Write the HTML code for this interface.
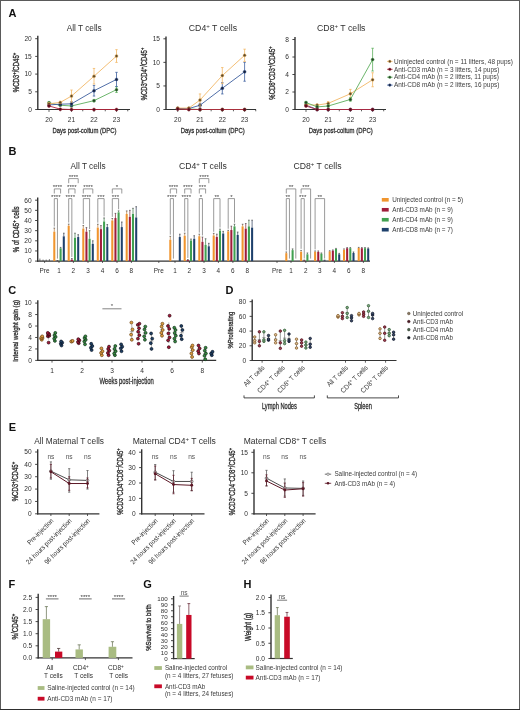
<!DOCTYPE html>
<html><head><meta charset="utf-8"><title>Figure</title>
<style>
html,body{margin:0;padding:0;background:#fff;}
body{width:520px;height:710px;overflow:hidden;}
svg{display:block;font-family:"Liberation Sans", sans-serif;will-change:transform;}
</style></head>
<body>
<svg width="520" height="710" viewBox="0 0 520 710">
<rect x="0" y="0" width="520" height="710" fill="#fff"/>
<text x="8.50" y="17.00" font-size="11" fill="#111" font-weight="bold">A</text>
<line x1="37.80" y1="35.80" x2="37.80" y2="110.10" stroke="#333333" stroke-width="1.4"/>
<line x1="35.20" y1="109.50" x2="37.80" y2="109.50" stroke="#333333" stroke-width="0.9"/>
<text x="31.80" y="111.85" font-size="6.6" fill="#303030" text-anchor="end">0</text>
<line x1="35.20" y1="91.80" x2="37.80" y2="91.80" stroke="#333333" stroke-width="0.9"/>
<text x="31.80" y="94.15" font-size="6.6" fill="#303030" text-anchor="end">5</text>
<line x1="35.20" y1="74.10" x2="37.80" y2="74.10" stroke="#333333" stroke-width="0.9"/>
<text x="31.80" y="76.45" font-size="6.6" fill="#303030" text-anchor="end">10</text>
<line x1="35.20" y1="56.40" x2="37.80" y2="56.40" stroke="#333333" stroke-width="0.9"/>
<text x="31.80" y="58.75" font-size="6.6" fill="#303030" text-anchor="end">15</text>
<line x1="35.20" y1="38.70" x2="37.80" y2="38.70" stroke="#333333" stroke-width="0.9"/>
<text x="31.80" y="41.05" font-size="6.6" fill="#303030" text-anchor="end">20</text>
<line x1="37.30" y1="109.50" x2="130.00" y2="109.50" stroke="#333333" stroke-width="1.2"/>
<line x1="49.00" y1="109.50" x2="49.00" y2="111.90" stroke="#333333" stroke-width="0.8"/>
<text x="49.00" y="121.80" font-size="6.6" fill="#303030" text-anchor="middle">20</text>
<line x1="60.25" y1="109.50" x2="60.25" y2="111.30" stroke="#333333" stroke-width="0.8"/>
<line x1="71.50" y1="109.50" x2="71.50" y2="111.90" stroke="#333333" stroke-width="0.8"/>
<text x="71.50" y="121.80" font-size="6.6" fill="#303030" text-anchor="middle">21</text>
<line x1="82.75" y1="109.50" x2="82.75" y2="111.30" stroke="#333333" stroke-width="0.8"/>
<line x1="94.00" y1="109.50" x2="94.00" y2="111.90" stroke="#333333" stroke-width="0.8"/>
<text x="94.00" y="121.80" font-size="6.6" fill="#303030" text-anchor="middle">22</text>
<line x1="105.25" y1="109.50" x2="105.25" y2="111.30" stroke="#333333" stroke-width="0.8"/>
<line x1="116.50" y1="109.50" x2="116.50" y2="111.90" stroke="#333333" stroke-width="0.8"/>
<text x="116.50" y="121.80" font-size="6.6" fill="#303030" text-anchor="middle">23</text>
<line x1="127.75" y1="109.50" x2="127.75" y2="111.30" stroke="#333333" stroke-width="0.8"/>
<text x="84.50" y="133.00" font-size="7.9" fill="#303030" text-anchor="middle" textLength="64" lengthAdjust="spacingAndGlyphs" stroke="#2b2b2b" stroke-width="0.28">Days post-coitum (DPC)</text>
<text x="66.7" y="30.6" font-size="8.4" fill="#303030" textLength="35" lengthAdjust="spacingAndGlyphs">All T cells</text>
<text x="19.30" y="72.50" font-size="8.4" fill="#303030" text-anchor="middle" stroke="#303030" stroke-width="0.35" textLength="39.5" lengthAdjust="spacingAndGlyphs" transform="rotate(-90 19.30 72.50)">%CD3<tspan font-size="70%" baseline-shift="super">+</tspan>/CD45<tspan font-size="70%" baseline-shift="super">+</tspan></text>
<line x1="49.00" y1="101.71" x2="49.00" y2="103.84" stroke="#5cae5c" stroke-width="0.8"/>
<line x1="47.80" y1="101.71" x2="50.20" y2="101.71" stroke="#5cae5c" stroke-width="0.8"/>
<line x1="47.80" y1="103.84" x2="50.20" y2="103.84" stroke="#5cae5c" stroke-width="0.8"/>
<line x1="94.00" y1="99.59" x2="94.00" y2="101.71" stroke="#5cae5c" stroke-width="0.8"/>
<line x1="92.80" y1="99.59" x2="95.20" y2="99.59" stroke="#5cae5c" stroke-width="0.8"/>
<line x1="92.80" y1="101.71" x2="95.20" y2="101.71" stroke="#5cae5c" stroke-width="0.8"/>
<line x1="116.50" y1="86.84" x2="116.50" y2="92.51" stroke="#5cae5c" stroke-width="0.8"/>
<line x1="115.30" y1="86.84" x2="117.70" y2="86.84" stroke="#5cae5c" stroke-width="0.8"/>
<line x1="115.30" y1="92.51" x2="117.70" y2="92.51" stroke="#5cae5c" stroke-width="0.8"/>
<polyline points="49.00,102.77 60.25,105.25 71.50,105.96 94.00,100.65 116.50,89.68" fill="none" stroke="#5cae5c" stroke-width="0.9" stroke-linejoin="round"/>
<circle cx="49.00" cy="102.77" r="1.5" fill="#234224" stroke="#5cae5c" stroke-width="0.45"/>
<circle cx="60.25" cy="105.25" r="1.5" fill="#234224" stroke="#5cae5c" stroke-width="0.45"/>
<circle cx="71.50" cy="105.96" r="1.5" fill="#234224" stroke="#5cae5c" stroke-width="0.45"/>
<circle cx="94.00" cy="100.65" r="1.5" fill="#234224" stroke="#5cae5c" stroke-width="0.45"/>
<circle cx="116.50" cy="89.68" r="1.5" fill="#234224" stroke="#5cae5c" stroke-width="0.45"/>
<line x1="49.00" y1="103.84" x2="49.00" y2="105.96" stroke="#3d5f9e" stroke-width="0.8"/>
<line x1="47.80" y1="103.84" x2="50.20" y2="103.84" stroke="#3d5f9e" stroke-width="0.8"/>
<line x1="47.80" y1="105.96" x2="50.20" y2="105.96" stroke="#3d5f9e" stroke-width="0.8"/>
<line x1="71.50" y1="101.71" x2="71.50" y2="105.96" stroke="#3d5f9e" stroke-width="0.8"/>
<line x1="70.30" y1="101.71" x2="72.70" y2="101.71" stroke="#3d5f9e" stroke-width="0.8"/>
<line x1="70.30" y1="105.96" x2="72.70" y2="105.96" stroke="#3d5f9e" stroke-width="0.8"/>
<line x1="94.00" y1="85.43" x2="94.00" y2="96.05" stroke="#3d5f9e" stroke-width="0.8"/>
<line x1="92.80" y1="85.43" x2="95.20" y2="85.43" stroke="#3d5f9e" stroke-width="0.8"/>
<line x1="92.80" y1="96.05" x2="95.20" y2="96.05" stroke="#3d5f9e" stroke-width="0.8"/>
<line x1="116.50" y1="72.33" x2="116.50" y2="86.49" stroke="#3d5f9e" stroke-width="0.8"/>
<line x1="115.30" y1="72.33" x2="117.70" y2="72.33" stroke="#3d5f9e" stroke-width="0.8"/>
<line x1="115.30" y1="86.49" x2="117.70" y2="86.49" stroke="#3d5f9e" stroke-width="0.8"/>
<polyline points="49.00,104.90 60.25,104.19 71.50,103.84 94.00,90.74 116.50,79.41" fill="none" stroke="#3d5f9e" stroke-width="0.9" stroke-linejoin="round"/>
<circle cx="49.00" cy="104.90" r="1.5" fill="#16213a" stroke="#3d5f9e" stroke-width="0.45"/>
<circle cx="60.25" cy="104.19" r="1.5" fill="#16213a" stroke="#3d5f9e" stroke-width="0.45"/>
<circle cx="71.50" cy="103.84" r="1.5" fill="#16213a" stroke="#3d5f9e" stroke-width="0.45"/>
<circle cx="94.00" cy="90.74" r="1.5" fill="#16213a" stroke="#3d5f9e" stroke-width="0.45"/>
<circle cx="116.50" cy="79.41" r="1.5" fill="#16213a" stroke="#3d5f9e" stroke-width="0.45"/>
<line x1="49.00" y1="102.77" x2="49.00" y2="104.90" stroke="#f2b765" stroke-width="0.8"/>
<line x1="47.80" y1="102.77" x2="50.20" y2="102.77" stroke="#f2b765" stroke-width="0.8"/>
<line x1="47.80" y1="104.90" x2="50.20" y2="104.90" stroke="#f2b765" stroke-width="0.8"/>
<line x1="60.25" y1="101.36" x2="60.25" y2="103.48" stroke="#f2b765" stroke-width="0.8"/>
<line x1="59.05" y1="101.36" x2="61.45" y2="101.36" stroke="#f2b765" stroke-width="0.8"/>
<line x1="59.05" y1="103.48" x2="61.45" y2="103.48" stroke="#f2b765" stroke-width="0.8"/>
<line x1="71.50" y1="90.03" x2="71.50" y2="102.07" stroke="#f2b765" stroke-width="0.8"/>
<line x1="70.30" y1="90.03" x2="72.70" y2="90.03" stroke="#f2b765" stroke-width="0.8"/>
<line x1="70.30" y1="102.07" x2="72.70" y2="102.07" stroke="#f2b765" stroke-width="0.8"/>
<line x1="94.00" y1="68.44" x2="94.00" y2="84.01" stroke="#f2b765" stroke-width="0.8"/>
<line x1="92.80" y1="68.44" x2="95.20" y2="68.44" stroke="#f2b765" stroke-width="0.8"/>
<line x1="92.80" y1="84.01" x2="95.20" y2="84.01" stroke="#f2b765" stroke-width="0.8"/>
<line x1="116.50" y1="49.67" x2="116.50" y2="62.42" stroke="#f2b765" stroke-width="0.8"/>
<line x1="115.30" y1="49.67" x2="117.70" y2="49.67" stroke="#f2b765" stroke-width="0.8"/>
<line x1="115.30" y1="62.42" x2="117.70" y2="62.42" stroke="#f2b765" stroke-width="0.8"/>
<polyline points="49.00,103.84 60.25,102.42 71.50,96.05 94.00,76.22 116.50,56.05" fill="none" stroke="#f2b765" stroke-width="0.9" stroke-linejoin="round"/>
<circle cx="49.00" cy="103.84" r="1.5" fill="#5e4a28" stroke="#f2b765" stroke-width="0.45"/>
<circle cx="60.25" cy="102.42" r="1.5" fill="#5e4a28" stroke="#f2b765" stroke-width="0.45"/>
<circle cx="71.50" cy="96.05" r="1.5" fill="#5e4a28" stroke="#f2b765" stroke-width="0.45"/>
<circle cx="94.00" cy="76.22" r="1.5" fill="#5e4a28" stroke="#f2b765" stroke-width="0.45"/>
<circle cx="116.50" cy="56.05" r="1.5" fill="#5e4a28" stroke="#f2b765" stroke-width="0.45"/>
<polyline points="49.00,105.96 60.25,109.15 71.50,109.50 94.00,109.50 116.50,109.50" fill="none" stroke="#b3243a" stroke-width="0.9" stroke-linejoin="round"/>
<circle cx="49.00" cy="105.96" r="1.5" fill="#4e0e1c" stroke="#b3243a" stroke-width="0.45"/>
<circle cx="60.25" cy="109.15" r="1.5" fill="#4e0e1c" stroke="#b3243a" stroke-width="0.45"/>
<circle cx="71.50" cy="109.50" r="1.5" fill="#4e0e1c" stroke="#b3243a" stroke-width="0.45"/>
<circle cx="94.00" cy="109.50" r="1.5" fill="#4e0e1c" stroke="#b3243a" stroke-width="0.45"/>
<circle cx="116.50" cy="109.50" r="1.5" fill="#4e0e1c" stroke="#b3243a" stroke-width="0.45"/>
<line x1="166.00" y1="36.50" x2="166.00" y2="110.10" stroke="#333333" stroke-width="1.4"/>
<line x1="163.40" y1="109.50" x2="166.00" y2="109.50" stroke="#333333" stroke-width="0.9"/>
<text x="160.00" y="111.85" font-size="6.6" fill="#303030" text-anchor="end">0</text>
<line x1="163.40" y1="85.94" x2="166.00" y2="85.94" stroke="#333333" stroke-width="0.9"/>
<text x="160.00" y="88.28" font-size="6.6" fill="#303030" text-anchor="end">5</text>
<line x1="163.40" y1="62.37" x2="166.00" y2="62.37" stroke="#333333" stroke-width="0.9"/>
<text x="160.00" y="64.72" font-size="6.6" fill="#303030" text-anchor="end">10</text>
<line x1="163.40" y1="38.80" x2="166.00" y2="38.80" stroke="#333333" stroke-width="0.9"/>
<text x="160.00" y="41.15" font-size="6.6" fill="#303030" text-anchor="end">15</text>
<line x1="165.50" y1="109.50" x2="256.00" y2="109.50" stroke="#333333" stroke-width="1.2"/>
<line x1="177.70" y1="109.50" x2="177.70" y2="111.90" stroke="#333333" stroke-width="0.8"/>
<text x="177.70" y="121.80" font-size="6.6" fill="#303030" text-anchor="middle">20</text>
<line x1="188.85" y1="109.50" x2="188.85" y2="111.30" stroke="#333333" stroke-width="0.8"/>
<line x1="200.00" y1="109.50" x2="200.00" y2="111.90" stroke="#333333" stroke-width="0.8"/>
<text x="200.00" y="121.80" font-size="6.6" fill="#303030" text-anchor="middle">21</text>
<line x1="211.15" y1="109.50" x2="211.15" y2="111.30" stroke="#333333" stroke-width="0.8"/>
<line x1="222.30" y1="109.50" x2="222.30" y2="111.90" stroke="#333333" stroke-width="0.8"/>
<text x="222.30" y="121.80" font-size="6.6" fill="#303030" text-anchor="middle">22</text>
<line x1="233.45" y1="109.50" x2="233.45" y2="111.30" stroke="#333333" stroke-width="0.8"/>
<line x1="244.60" y1="109.50" x2="244.60" y2="111.90" stroke="#333333" stroke-width="0.8"/>
<text x="244.60" y="121.80" font-size="6.6" fill="#303030" text-anchor="middle">23</text>
<line x1="255.75" y1="109.50" x2="255.75" y2="111.30" stroke="#333333" stroke-width="0.8"/>
<text x="212.70" y="133.00" font-size="7.9" fill="#303030" text-anchor="middle" textLength="64" lengthAdjust="spacingAndGlyphs" stroke="#2b2b2b" stroke-width="0.28">Days post-coitum (DPC)</text>
<text x="188.8" y="30.6" font-size="8.4" fill="#303030" textLength="48.3" lengthAdjust="spacingAndGlyphs">CD4<tspan font-size="70%" baseline-shift="super">+</tspan> T cells</text>
<text x="147.20" y="74.00" font-size="8.4" fill="#303030" text-anchor="middle" stroke="#303030" stroke-width="0.35" textLength="52.6" lengthAdjust="spacingAndGlyphs" transform="rotate(-90 147.20 74.00)">%CD3<tspan font-size="70%" baseline-shift="super">+</tspan>CD4<tspan font-size="70%" baseline-shift="super">+</tspan>/CD45<tspan font-size="70%" baseline-shift="super">+</tspan></text>
<polyline points="177.70,108.56 188.85,109.03 200.00,109.50 222.30,109.50 244.60,109.50" fill="none" stroke="#5cae5c" stroke-width="0.9" stroke-linejoin="round"/>
<circle cx="177.70" cy="108.56" r="1.5" fill="#234224" stroke="#5cae5c" stroke-width="0.45"/>
<circle cx="188.85" cy="109.03" r="1.5" fill="#234224" stroke="#5cae5c" stroke-width="0.45"/>
<circle cx="200.00" cy="109.50" r="1.5" fill="#234224" stroke="#5cae5c" stroke-width="0.45"/>
<circle cx="222.30" cy="109.50" r="1.5" fill="#234224" stroke="#5cae5c" stroke-width="0.45"/>
<circle cx="244.60" cy="109.50" r="1.5" fill="#234224" stroke="#5cae5c" stroke-width="0.45"/>
<line x1="200.00" y1="103.37" x2="200.00" y2="107.14" stroke="#3d5f9e" stroke-width="0.8"/>
<line x1="198.80" y1="103.37" x2="201.20" y2="103.37" stroke="#3d5f9e" stroke-width="0.8"/>
<line x1="198.80" y1="107.14" x2="201.20" y2="107.14" stroke="#3d5f9e" stroke-width="0.8"/>
<line x1="222.30" y1="82.64" x2="222.30" y2="93.95" stroke="#3d5f9e" stroke-width="0.8"/>
<line x1="221.10" y1="82.64" x2="223.50" y2="82.64" stroke="#3d5f9e" stroke-width="0.8"/>
<line x1="221.10" y1="93.95" x2="223.50" y2="93.95" stroke="#3d5f9e" stroke-width="0.8"/>
<line x1="244.60" y1="62.37" x2="244.60" y2="81.22" stroke="#3d5f9e" stroke-width="0.8"/>
<line x1="243.40" y1="62.37" x2="245.80" y2="62.37" stroke="#3d5f9e" stroke-width="0.8"/>
<line x1="243.40" y1="81.22" x2="245.80" y2="81.22" stroke="#3d5f9e" stroke-width="0.8"/>
<polyline points="177.70,108.56 188.85,108.56 200.00,105.26 222.30,88.29 244.60,71.80" fill="none" stroke="#3d5f9e" stroke-width="0.9" stroke-linejoin="round"/>
<circle cx="177.70" cy="108.56" r="1.5" fill="#16213a" stroke="#3d5f9e" stroke-width="0.45"/>
<circle cx="188.85" cy="108.56" r="1.5" fill="#16213a" stroke="#3d5f9e" stroke-width="0.45"/>
<circle cx="200.00" cy="105.26" r="1.5" fill="#16213a" stroke="#3d5f9e" stroke-width="0.45"/>
<circle cx="222.30" cy="88.29" r="1.5" fill="#16213a" stroke="#3d5f9e" stroke-width="0.45"/>
<circle cx="244.60" cy="71.80" r="1.5" fill="#16213a" stroke="#3d5f9e" stroke-width="0.45"/>
<line x1="200.00" y1="93.95" x2="200.00" y2="106.20" stroke="#f2b765" stroke-width="0.8"/>
<line x1="198.80" y1="93.95" x2="201.20" y2="93.95" stroke="#f2b765" stroke-width="0.8"/>
<line x1="198.80" y1="106.20" x2="201.20" y2="106.20" stroke="#f2b765" stroke-width="0.8"/>
<line x1="222.30" y1="67.55" x2="222.30" y2="83.58" stroke="#f2b765" stroke-width="0.8"/>
<line x1="221.10" y1="67.55" x2="223.50" y2="67.55" stroke="#f2b765" stroke-width="0.8"/>
<line x1="221.10" y1="83.58" x2="223.50" y2="83.58" stroke="#f2b765" stroke-width="0.8"/>
<line x1="244.60" y1="49.17" x2="244.60" y2="61.43" stroke="#f2b765" stroke-width="0.8"/>
<line x1="243.40" y1="49.17" x2="245.80" y2="49.17" stroke="#f2b765" stroke-width="0.8"/>
<line x1="243.40" y1="61.43" x2="245.80" y2="61.43" stroke="#f2b765" stroke-width="0.8"/>
<polyline points="177.70,108.09 188.85,108.09 200.00,100.07 222.30,75.57 244.60,55.30" fill="none" stroke="#f2b765" stroke-width="0.9" stroke-linejoin="round"/>
<circle cx="177.70" cy="108.09" r="1.5" fill="#5e4a28" stroke="#f2b765" stroke-width="0.45"/>
<circle cx="188.85" cy="108.09" r="1.5" fill="#5e4a28" stroke="#f2b765" stroke-width="0.45"/>
<circle cx="200.00" cy="100.07" r="1.5" fill="#5e4a28" stroke="#f2b765" stroke-width="0.45"/>
<circle cx="222.30" cy="75.57" r="1.5" fill="#5e4a28" stroke="#f2b765" stroke-width="0.45"/>
<circle cx="244.60" cy="55.30" r="1.5" fill="#5e4a28" stroke="#f2b765" stroke-width="0.45"/>
<polyline points="177.70,109.03 188.85,109.50 200.00,109.50 222.30,109.50 244.60,109.50" fill="none" stroke="#b3243a" stroke-width="0.9" stroke-linejoin="round"/>
<circle cx="177.70" cy="109.03" r="1.5" fill="#4e0e1c" stroke="#b3243a" stroke-width="0.45"/>
<circle cx="188.85" cy="109.50" r="1.5" fill="#4e0e1c" stroke="#b3243a" stroke-width="0.45"/>
<circle cx="200.00" cy="109.50" r="1.5" fill="#4e0e1c" stroke="#b3243a" stroke-width="0.45"/>
<circle cx="222.30" cy="109.50" r="1.5" fill="#4e0e1c" stroke="#b3243a" stroke-width="0.45"/>
<circle cx="244.60" cy="109.50" r="1.5" fill="#4e0e1c" stroke="#b3243a" stroke-width="0.45"/>
<line x1="295.00" y1="37.00" x2="295.00" y2="110.10" stroke="#333333" stroke-width="1.4"/>
<line x1="292.40" y1="109.50" x2="295.00" y2="109.50" stroke="#333333" stroke-width="0.9"/>
<text x="289.00" y="111.85" font-size="6.6" fill="#303030" text-anchor="end">0</text>
<line x1="292.40" y1="92.00" x2="295.00" y2="92.00" stroke="#333333" stroke-width="0.9"/>
<text x="289.00" y="94.35" font-size="6.6" fill="#303030" text-anchor="end">2</text>
<line x1="292.40" y1="74.50" x2="295.00" y2="74.50" stroke="#333333" stroke-width="0.9"/>
<text x="289.00" y="76.85" font-size="6.6" fill="#303030" text-anchor="end">4</text>
<line x1="292.40" y1="57.00" x2="295.00" y2="57.00" stroke="#333333" stroke-width="0.9"/>
<text x="289.00" y="59.35" font-size="6.6" fill="#303030" text-anchor="end">6</text>
<line x1="292.40" y1="39.50" x2="295.00" y2="39.50" stroke="#333333" stroke-width="0.9"/>
<text x="289.00" y="41.85" font-size="6.6" fill="#303030" text-anchor="end">8</text>
<line x1="294.50" y1="109.50" x2="386.00" y2="109.50" stroke="#333333" stroke-width="1.2"/>
<line x1="306.00" y1="109.50" x2="306.00" y2="111.90" stroke="#333333" stroke-width="0.8"/>
<text x="306.00" y="121.80" font-size="6.6" fill="#303030" text-anchor="middle">20</text>
<line x1="317.10" y1="109.50" x2="317.10" y2="111.30" stroke="#333333" stroke-width="0.8"/>
<line x1="328.20" y1="109.50" x2="328.20" y2="111.90" stroke="#333333" stroke-width="0.8"/>
<text x="328.20" y="121.80" font-size="6.6" fill="#303030" text-anchor="middle">21</text>
<line x1="339.30" y1="109.50" x2="339.30" y2="111.30" stroke="#333333" stroke-width="0.8"/>
<line x1="350.40" y1="109.50" x2="350.40" y2="111.90" stroke="#333333" stroke-width="0.8"/>
<text x="350.40" y="121.80" font-size="6.6" fill="#303030" text-anchor="middle">22</text>
<line x1="361.50" y1="109.50" x2="361.50" y2="111.30" stroke="#333333" stroke-width="0.8"/>
<line x1="372.60" y1="109.50" x2="372.60" y2="111.90" stroke="#333333" stroke-width="0.8"/>
<text x="372.60" y="121.80" font-size="6.6" fill="#303030" text-anchor="middle">23</text>
<line x1="383.70" y1="109.50" x2="383.70" y2="111.30" stroke="#333333" stroke-width="0.8"/>
<text x="340.70" y="133.00" font-size="7.9" fill="#303030" text-anchor="middle" textLength="64" lengthAdjust="spacingAndGlyphs" stroke="#2b2b2b" stroke-width="0.28">Days post-coitum (DPC)</text>
<text x="317.0" y="30.6" font-size="8.4" fill="#303030" textLength="48.5" lengthAdjust="spacingAndGlyphs">CD8<tspan font-size="70%" baseline-shift="super">+</tspan> T cells</text>
<text x="275.40" y="73.00" font-size="8.4" fill="#303030" text-anchor="middle" stroke="#303030" stroke-width="0.35" textLength="53.3" lengthAdjust="spacingAndGlyphs" transform="rotate(-90 275.40 73.00)">%CD8<tspan font-size="70%" baseline-shift="super">+</tspan>CD3<tspan font-size="70%" baseline-shift="super">+</tspan>/CD45<tspan font-size="70%" baseline-shift="super">+</tspan></text>
<polyline points="306.00,105.12 317.10,109.50 328.20,109.50 350.40,109.50 372.60,109.50" fill="none" stroke="#3d5f9e" stroke-width="0.9" stroke-linejoin="round"/>
<circle cx="306.00" cy="105.12" r="1.5" fill="#16213a" stroke="#3d5f9e" stroke-width="0.45"/>
<circle cx="317.10" cy="109.50" r="1.5" fill="#16213a" stroke="#3d5f9e" stroke-width="0.45"/>
<circle cx="328.20" cy="109.50" r="1.5" fill="#16213a" stroke="#3d5f9e" stroke-width="0.45"/>
<circle cx="350.40" cy="109.50" r="1.5" fill="#16213a" stroke="#3d5f9e" stroke-width="0.45"/>
<circle cx="372.60" cy="109.50" r="1.5" fill="#16213a" stroke="#3d5f9e" stroke-width="0.45"/>
<line x1="306.00" y1="103.81" x2="306.00" y2="105.56" stroke="#f2b765" stroke-width="0.8"/>
<line x1="304.80" y1="103.81" x2="307.20" y2="103.81" stroke="#f2b765" stroke-width="0.8"/>
<line x1="304.80" y1="105.56" x2="307.20" y2="105.56" stroke="#f2b765" stroke-width="0.8"/>
<line x1="317.10" y1="104.25" x2="317.10" y2="106.00" stroke="#f2b765" stroke-width="0.8"/>
<line x1="315.90" y1="104.25" x2="318.30" y2="104.25" stroke="#f2b765" stroke-width="0.8"/>
<line x1="315.90" y1="106.00" x2="318.30" y2="106.00" stroke="#f2b765" stroke-width="0.8"/>
<line x1="328.20" y1="101.62" x2="328.20" y2="105.12" stroke="#f2b765" stroke-width="0.8"/>
<line x1="327.00" y1="101.62" x2="329.40" y2="101.62" stroke="#f2b765" stroke-width="0.8"/>
<line x1="327.00" y1="105.12" x2="329.40" y2="105.12" stroke="#f2b765" stroke-width="0.8"/>
<line x1="350.40" y1="89.38" x2="350.40" y2="98.12" stroke="#f2b765" stroke-width="0.8"/>
<line x1="349.20" y1="89.38" x2="351.60" y2="89.38" stroke="#f2b765" stroke-width="0.8"/>
<line x1="349.20" y1="98.12" x2="351.60" y2="98.12" stroke="#f2b765" stroke-width="0.8"/>
<line x1="372.60" y1="72.75" x2="372.60" y2="86.75" stroke="#f2b765" stroke-width="0.8"/>
<line x1="371.40" y1="72.75" x2="373.80" y2="72.75" stroke="#f2b765" stroke-width="0.8"/>
<line x1="371.40" y1="86.75" x2="373.80" y2="86.75" stroke="#f2b765" stroke-width="0.8"/>
<polyline points="306.00,104.69 317.10,105.12 328.20,103.38 350.40,93.75 372.60,79.75" fill="none" stroke="#f2b765" stroke-width="0.9" stroke-linejoin="round"/>
<circle cx="306.00" cy="104.69" r="1.5" fill="#5e4a28" stroke="#f2b765" stroke-width="0.45"/>
<circle cx="317.10" cy="105.12" r="1.5" fill="#5e4a28" stroke="#f2b765" stroke-width="0.45"/>
<circle cx="328.20" cy="103.38" r="1.5" fill="#5e4a28" stroke="#f2b765" stroke-width="0.45"/>
<circle cx="350.40" cy="93.75" r="1.5" fill="#5e4a28" stroke="#f2b765" stroke-width="0.45"/>
<circle cx="372.60" cy="79.75" r="1.5" fill="#5e4a28" stroke="#f2b765" stroke-width="0.45"/>
<line x1="306.00" y1="101.62" x2="306.00" y2="103.38" stroke="#5cae5c" stroke-width="0.8"/>
<line x1="304.80" y1="101.62" x2="307.20" y2="101.62" stroke="#5cae5c" stroke-width="0.8"/>
<line x1="304.80" y1="103.38" x2="307.20" y2="103.38" stroke="#5cae5c" stroke-width="0.8"/>
<line x1="328.20" y1="105.12" x2="328.20" y2="106.88" stroke="#5cae5c" stroke-width="0.8"/>
<line x1="327.00" y1="105.12" x2="329.40" y2="105.12" stroke="#5cae5c" stroke-width="0.8"/>
<line x1="327.00" y1="106.88" x2="329.40" y2="106.88" stroke="#5cae5c" stroke-width="0.8"/>
<line x1="350.40" y1="97.69" x2="350.40" y2="101.19" stroke="#5cae5c" stroke-width="0.8"/>
<line x1="349.20" y1="97.69" x2="351.60" y2="97.69" stroke="#5cae5c" stroke-width="0.8"/>
<line x1="349.20" y1="101.19" x2="351.60" y2="101.19" stroke="#5cae5c" stroke-width="0.8"/>
<line x1="372.60" y1="48.25" x2="372.60" y2="71.00" stroke="#5cae5c" stroke-width="0.8"/>
<line x1="371.40" y1="48.25" x2="373.80" y2="48.25" stroke="#5cae5c" stroke-width="0.8"/>
<line x1="371.40" y1="71.00" x2="373.80" y2="71.00" stroke="#5cae5c" stroke-width="0.8"/>
<polyline points="306.00,102.50 317.10,106.88 328.20,106.00 350.40,99.44 372.60,59.62" fill="none" stroke="#5cae5c" stroke-width="0.9" stroke-linejoin="round"/>
<circle cx="306.00" cy="102.50" r="1.5" fill="#234224" stroke="#5cae5c" stroke-width="0.45"/>
<circle cx="317.10" cy="106.88" r="1.5" fill="#234224" stroke="#5cae5c" stroke-width="0.45"/>
<circle cx="328.20" cy="106.00" r="1.5" fill="#234224" stroke="#5cae5c" stroke-width="0.45"/>
<circle cx="350.40" cy="99.44" r="1.5" fill="#234224" stroke="#5cae5c" stroke-width="0.45"/>
<circle cx="372.60" cy="59.62" r="1.5" fill="#234224" stroke="#5cae5c" stroke-width="0.45"/>
<polyline points="306.00,106.00 317.10,109.50 328.20,109.50 350.40,109.50 372.60,109.50" fill="none" stroke="#b3243a" stroke-width="0.9" stroke-linejoin="round"/>
<circle cx="306.00" cy="106.00" r="1.5" fill="#4e0e1c" stroke="#b3243a" stroke-width="0.45"/>
<circle cx="317.10" cy="109.50" r="1.5" fill="#4e0e1c" stroke="#b3243a" stroke-width="0.45"/>
<circle cx="328.20" cy="109.50" r="1.5" fill="#4e0e1c" stroke="#b3243a" stroke-width="0.45"/>
<circle cx="350.40" cy="109.50" r="1.5" fill="#4e0e1c" stroke="#b3243a" stroke-width="0.45"/>
<circle cx="372.60" cy="109.50" r="1.5" fill="#4e0e1c" stroke="#b3243a" stroke-width="0.45"/>
<line x1="387.00" y1="61.40" x2="392.60" y2="61.40" stroke="#f2b765" stroke-width="0.8"/>
<circle cx="389.80" cy="61.40" r="1.3" fill="#5e4a28" stroke="#f2b765" stroke-width="0.4"/>
<text x="394.00" y="63.60" font-size="6.45" fill="#3c3c3c">Uninjected control (n = 11 litters, 48 pups)</text>
<line x1="387.00" y1="69.30" x2="392.60" y2="69.30" stroke="#b3243a" stroke-width="0.8"/>
<circle cx="389.80" cy="69.30" r="1.3" fill="#4e0e1c" stroke="#b3243a" stroke-width="0.4"/>
<text x="394.00" y="71.50" font-size="6.45" fill="#3c3c3c">Anti-CD3 mAb (n = 3 litters, 14 pups)</text>
<line x1="387.00" y1="77.20" x2="392.60" y2="77.20" stroke="#5cae5c" stroke-width="0.8"/>
<circle cx="389.80" cy="77.20" r="1.3" fill="#234224" stroke="#5cae5c" stroke-width="0.4"/>
<text x="394.00" y="79.40" font-size="6.45" fill="#3c3c3c">Anti-CD4 mAb (n = 2 litters, 11 pups)</text>
<line x1="387.00" y1="85.10" x2="392.60" y2="85.10" stroke="#3d5f9e" stroke-width="0.8"/>
<circle cx="389.80" cy="85.10" r="1.3" fill="#16213a" stroke="#3d5f9e" stroke-width="0.4"/>
<text x="394.00" y="87.30" font-size="6.45" fill="#3c3c3c">Anti-CD8 mAb (n = 2 litters, 16 pups)</text>
<text x="8.40" y="155.00" font-size="11" fill="#111" font-weight="bold">B</text>
<line x1="37.70" y1="197.40" x2="37.70" y2="261.70" stroke="#333333" stroke-width="1.4"/>
<line x1="35.10" y1="261.10" x2="37.70" y2="261.10" stroke="#333333" stroke-width="0.9"/>
<text x="31.70" y="263.45" font-size="6.6" fill="#303030" text-anchor="end">0</text>
<line x1="35.10" y1="250.95" x2="37.70" y2="250.95" stroke="#333333" stroke-width="0.9"/>
<text x="31.70" y="253.30" font-size="6.6" fill="#303030" text-anchor="end">10</text>
<line x1="35.10" y1="240.80" x2="37.70" y2="240.80" stroke="#333333" stroke-width="0.9"/>
<text x="31.70" y="243.15" font-size="6.6" fill="#303030" text-anchor="end">20</text>
<line x1="35.10" y1="230.65" x2="37.70" y2="230.65" stroke="#333333" stroke-width="0.9"/>
<text x="31.70" y="233.00" font-size="6.6" fill="#303030" text-anchor="end">30</text>
<line x1="35.10" y1="220.50" x2="37.70" y2="220.50" stroke="#333333" stroke-width="0.9"/>
<text x="31.70" y="222.85" font-size="6.6" fill="#303030" text-anchor="end">40</text>
<line x1="35.10" y1="210.35" x2="37.70" y2="210.35" stroke="#333333" stroke-width="0.9"/>
<text x="31.70" y="212.70" font-size="6.6" fill="#303030" text-anchor="end">50</text>
<line x1="35.10" y1="200.20" x2="37.70" y2="200.20" stroke="#333333" stroke-width="0.9"/>
<text x="31.70" y="202.55" font-size="6.6" fill="#303030" text-anchor="end">60</text>
<text x="18.8" y="229.3" font-size="8.2" stroke="#303030" stroke-width="0.35" fill="#303030" text-anchor="middle" textLength="45.8" lengthAdjust="spacingAndGlyphs" transform="rotate(-90 18.8 229.3)">% of CD45<tspan font-size="70%" baseline-shift="super">+</tspan> cells</text>
<line x1="37.20" y1="261.10" x2="370.00" y2="261.10" stroke="#333333" stroke-width="1.2"/>
<line x1="44.60" y1="261.10" x2="44.60" y2="262.90" stroke="#333333" stroke-width="0.8"/>
<text x="44.60" y="273.30" font-size="6.4" fill="#303030" text-anchor="middle">Pre</text>
<line x1="39.90" y1="258.56" x2="39.90" y2="261.10" stroke="#444" stroke-width="0.7"/>
<line x1="43.05" y1="259.58" x2="43.05" y2="261.10" stroke="#444" stroke-width="0.7"/>
<line x1="46.20" y1="259.58" x2="46.20" y2="261.10" stroke="#444" stroke-width="0.7"/>
<line x1="49.40" y1="259.07" x2="49.40" y2="261.10" stroke="#444" stroke-width="0.7"/>
<line x1="59.00" y1="261.10" x2="59.00" y2="262.90" stroke="#333333" stroke-width="0.8"/>
<text x="59.00" y="273.30" font-size="6.4" fill="#303030" text-anchor="middle">1</text>
<rect x="53.27" y="231.67" width="2.05" height="29.44" fill="#f0952e"/>
<line x1="54.30" y1="228.11" x2="54.30" y2="231.67" stroke="#b87a3a" stroke-width="0.7"/>
<line x1="53.50" y1="228.11" x2="55.10" y2="228.11" stroke="#444" stroke-width="0.7"/>
<line x1="57.45" y1="260.59" x2="57.45" y2="261.10" stroke="#7a2036" stroke-width="0.7"/>
<line x1="56.65" y1="260.59" x2="58.25" y2="260.59" stroke="#444" stroke-width="0.7"/>
<rect x="59.58" y="248.31" width="2.05" height="12.79" fill="#40a050"/>
<line x1="60.60" y1="247.40" x2="60.60" y2="248.31" stroke="#3a7a44" stroke-width="0.7"/>
<line x1="59.80" y1="247.40" x2="61.40" y2="247.40" stroke="#444" stroke-width="0.7"/>
<rect x="62.77" y="236.33" width="2.05" height="24.77" fill="#1e406c"/>
<line x1="63.80" y1="233.19" x2="63.80" y2="236.33" stroke="#2a3a58" stroke-width="0.7"/>
<line x1="63.00" y1="233.19" x2="64.60" y2="233.19" stroke="#444" stroke-width="0.7"/>
<line x1="73.40" y1="261.10" x2="73.40" y2="262.90" stroke="#333333" stroke-width="0.8"/>
<text x="73.40" y="273.30" font-size="6.4" fill="#303030" text-anchor="middle">2</text>
<rect x="67.67" y="225.78" width="2.05" height="35.32" fill="#f0952e"/>
<line x1="68.70" y1="224.15" x2="68.70" y2="225.78" stroke="#b87a3a" stroke-width="0.7"/>
<line x1="67.90" y1="224.15" x2="69.50" y2="224.15" stroke="#444" stroke-width="0.7"/>
<rect x="70.83" y="259.58" width="2.05" height="1.52" fill="#a01c3a"/>
<line x1="71.85" y1="258.56" x2="71.85" y2="259.58" stroke="#7a2036" stroke-width="0.7"/>
<line x1="71.05" y1="258.56" x2="72.65" y2="258.56" stroke="#444" stroke-width="0.7"/>
<rect x="73.97" y="237.76" width="2.05" height="23.34" fill="#40a050"/>
<line x1="75.00" y1="233.19" x2="75.00" y2="237.76" stroke="#3a7a44" stroke-width="0.7"/>
<line x1="74.20" y1="233.19" x2="75.80" y2="233.19" stroke="#444" stroke-width="0.7"/>
<rect x="77.17" y="237.04" width="2.05" height="24.06" fill="#1e406c"/>
<line x1="78.20" y1="234.71" x2="78.20" y2="237.04" stroke="#2a3a58" stroke-width="0.7"/>
<line x1="77.40" y1="234.71" x2="79.00" y2="234.71" stroke="#444" stroke-width="0.7"/>
<line x1="88.00" y1="261.10" x2="88.00" y2="262.90" stroke="#333333" stroke-width="0.8"/>
<text x="88.00" y="273.30" font-size="6.4" fill="#303030" text-anchor="middle">3</text>
<rect x="82.27" y="228.62" width="2.05" height="32.48" fill="#f0952e"/>
<line x1="83.30" y1="225.58" x2="83.30" y2="228.62" stroke="#b87a3a" stroke-width="0.7"/>
<line x1="82.50" y1="225.58" x2="84.10" y2="225.58" stroke="#444" stroke-width="0.7"/>
<rect x="85.42" y="231.67" width="2.05" height="29.44" fill="#a01c3a"/>
<line x1="86.45" y1="227.61" x2="86.45" y2="231.67" stroke="#7a2036" stroke-width="0.7"/>
<line x1="85.65" y1="227.61" x2="87.25" y2="227.61" stroke="#444" stroke-width="0.7"/>
<rect x="88.57" y="238.77" width="2.05" height="22.33" fill="#40a050"/>
<line x1="89.60" y1="230.65" x2="89.60" y2="238.77" stroke="#3a7a44" stroke-width="0.7"/>
<line x1="88.80" y1="230.65" x2="90.40" y2="230.65" stroke="#444" stroke-width="0.7"/>
<rect x="91.77" y="243.85" width="2.05" height="17.25" fill="#1e406c"/>
<line x1="92.80" y1="240.80" x2="92.80" y2="243.85" stroke="#2a3a58" stroke-width="0.7"/>
<line x1="92.00" y1="240.80" x2="93.60" y2="240.80" stroke="#444" stroke-width="0.7"/>
<line x1="102.50" y1="261.10" x2="102.50" y2="262.90" stroke="#333333" stroke-width="0.8"/>
<text x="102.50" y="273.30" font-size="6.4" fill="#303030" text-anchor="middle">4</text>
<rect x="96.77" y="227.61" width="2.05" height="33.50" fill="#f0952e"/>
<line x1="97.80" y1="224.26" x2="97.80" y2="227.61" stroke="#b87a3a" stroke-width="0.7"/>
<line x1="97.00" y1="224.26" x2="98.60" y2="224.26" stroke="#444" stroke-width="0.7"/>
<rect x="99.92" y="229.13" width="2.05" height="31.97" fill="#a01c3a"/>
<line x1="100.95" y1="225.58" x2="100.95" y2="229.13" stroke="#7a2036" stroke-width="0.7"/>
<line x1="100.15" y1="225.58" x2="101.75" y2="225.58" stroke="#444" stroke-width="0.7"/>
<rect x="103.07" y="221.52" width="2.05" height="39.58" fill="#40a050"/>
<line x1="104.10" y1="217.96" x2="104.10" y2="221.52" stroke="#3a7a44" stroke-width="0.7"/>
<line x1="103.30" y1="217.96" x2="104.90" y2="217.96" stroke="#444" stroke-width="0.7"/>
<rect x="106.27" y="227.10" width="2.05" height="34.00" fill="#1e406c"/>
<line x1="107.30" y1="224.56" x2="107.30" y2="227.10" stroke="#2a3a58" stroke-width="0.7"/>
<line x1="106.50" y1="224.56" x2="108.10" y2="224.56" stroke="#444" stroke-width="0.7"/>
<line x1="117.00" y1="261.10" x2="117.00" y2="262.90" stroke="#333333" stroke-width="0.8"/>
<text x="117.00" y="273.30" font-size="6.4" fill="#303030" text-anchor="middle">6</text>
<rect x="111.27" y="220.50" width="2.05" height="40.60" fill="#f0952e"/>
<line x1="112.30" y1="218.47" x2="112.30" y2="220.50" stroke="#b87a3a" stroke-width="0.7"/>
<line x1="111.50" y1="218.47" x2="113.10" y2="218.47" stroke="#444" stroke-width="0.7"/>
<rect x="114.42" y="218.06" width="2.05" height="43.04" fill="#a01c3a"/>
<line x1="115.45" y1="213.40" x2="115.45" y2="218.06" stroke="#7a2036" stroke-width="0.7"/>
<line x1="114.65" y1="213.40" x2="116.25" y2="213.40" stroke="#444" stroke-width="0.7"/>
<rect x="117.57" y="212.38" width="2.05" height="48.72" fill="#40a050"/>
<line x1="118.60" y1="210.86" x2="118.60" y2="212.38" stroke="#3a7a44" stroke-width="0.7"/>
<line x1="117.80" y1="210.86" x2="119.40" y2="210.86" stroke="#444" stroke-width="0.7"/>
<rect x="120.77" y="227.10" width="2.05" height="34.00" fill="#1e406c"/>
<line x1="121.80" y1="222.02" x2="121.80" y2="227.10" stroke="#2a3a58" stroke-width="0.7"/>
<line x1="121.00" y1="222.02" x2="122.60" y2="222.02" stroke="#444" stroke-width="0.7"/>
<line x1="131.40" y1="261.10" x2="131.40" y2="262.90" stroke="#333333" stroke-width="0.8"/>
<text x="131.40" y="273.30" font-size="6.4" fill="#303030" text-anchor="middle">8</text>
<rect x="125.67" y="214.00" width="2.05" height="47.10" fill="#f0952e"/>
<line x1="126.70" y1="210.96" x2="126.70" y2="214.00" stroke="#b87a3a" stroke-width="0.7"/>
<line x1="125.90" y1="210.96" x2="127.50" y2="210.96" stroke="#444" stroke-width="0.7"/>
<rect x="128.82" y="216.85" width="2.05" height="44.25" fill="#a01c3a"/>
<line x1="129.85" y1="210.35" x2="129.85" y2="216.85" stroke="#7a2036" stroke-width="0.7"/>
<line x1="129.05" y1="210.35" x2="130.65" y2="210.35" stroke="#444" stroke-width="0.7"/>
<rect x="131.97" y="214.00" width="2.05" height="47.10" fill="#40a050"/>
<line x1="133.00" y1="208.32" x2="133.00" y2="214.00" stroke="#3a7a44" stroke-width="0.7"/>
<line x1="132.20" y1="208.32" x2="133.80" y2="208.32" stroke="#444" stroke-width="0.7"/>
<rect x="135.18" y="217.46" width="2.05" height="43.64" fill="#1e406c"/>
<line x1="136.20" y1="206.70" x2="136.20" y2="217.46" stroke="#2a3a58" stroke-width="0.7"/>
<line x1="135.40" y1="206.70" x2="137.00" y2="206.70" stroke="#444" stroke-width="0.7"/>
<line x1="158.80" y1="261.10" x2="158.80" y2="262.90" stroke="#333333" stroke-width="0.8"/>
<text x="158.80" y="273.30" font-size="6.4" fill="#303030" text-anchor="middle">Pre</text>
<line x1="175.00" y1="261.10" x2="175.00" y2="262.90" stroke="#333333" stroke-width="0.8"/>
<text x="175.00" y="273.30" font-size="6.4" fill="#303030" text-anchor="middle">1</text>
<rect x="169.28" y="239.79" width="2.05" height="21.31" fill="#f0952e"/>
<line x1="170.30" y1="236.33" x2="170.30" y2="239.79" stroke="#b87a3a" stroke-width="0.7"/>
<line x1="169.50" y1="236.33" x2="171.10" y2="236.33" stroke="#444" stroke-width="0.7"/>
<rect x="178.78" y="237.04" width="2.05" height="24.06" fill="#1e406c"/>
<line x1="179.80" y1="234.20" x2="179.80" y2="237.04" stroke="#2a3a58" stroke-width="0.7"/>
<line x1="179.00" y1="234.20" x2="180.60" y2="234.20" stroke="#444" stroke-width="0.7"/>
<line x1="189.40" y1="261.10" x2="189.40" y2="262.90" stroke="#333333" stroke-width="0.8"/>
<text x="189.40" y="273.30" font-size="6.4" fill="#303030" text-anchor="middle">2</text>
<rect x="183.68" y="235.73" width="2.05" height="25.38" fill="#f0952e"/>
<line x1="184.70" y1="233.19" x2="184.70" y2="235.73" stroke="#b87a3a" stroke-width="0.7"/>
<line x1="183.90" y1="233.19" x2="185.50" y2="233.19" stroke="#444" stroke-width="0.7"/>
<rect x="186.82" y="260.09" width="2.05" height="1.01" fill="#a01c3a"/>
<line x1="187.85" y1="259.58" x2="187.85" y2="260.09" stroke="#7a2036" stroke-width="0.7"/>
<line x1="187.05" y1="259.58" x2="188.65" y2="259.58" stroke="#444" stroke-width="0.7"/>
<rect x="189.97" y="240.50" width="2.05" height="20.60" fill="#40a050"/>
<line x1="191.00" y1="239.07" x2="191.00" y2="240.50" stroke="#3a7a44" stroke-width="0.7"/>
<line x1="190.20" y1="239.07" x2="191.80" y2="239.07" stroke="#444" stroke-width="0.7"/>
<rect x="193.18" y="238.77" width="2.05" height="22.33" fill="#1e406c"/>
<line x1="194.20" y1="235.73" x2="194.20" y2="238.77" stroke="#2a3a58" stroke-width="0.7"/>
<line x1="193.40" y1="235.73" x2="195.00" y2="235.73" stroke="#444" stroke-width="0.7"/>
<line x1="204.00" y1="261.10" x2="204.00" y2="262.90" stroke="#333333" stroke-width="0.8"/>
<text x="204.00" y="273.30" font-size="6.4" fill="#303030" text-anchor="middle">3</text>
<rect x="198.28" y="236.23" width="2.05" height="24.87" fill="#f0952e"/>
<line x1="199.30" y1="234.20" x2="199.30" y2="236.23" stroke="#b87a3a" stroke-width="0.7"/>
<line x1="198.50" y1="234.20" x2="200.10" y2="234.20" stroke="#444" stroke-width="0.7"/>
<rect x="201.42" y="241.82" width="2.05" height="19.28" fill="#a01c3a"/>
<line x1="202.45" y1="237.04" x2="202.45" y2="241.82" stroke="#7a2036" stroke-width="0.7"/>
<line x1="201.65" y1="237.04" x2="203.25" y2="237.04" stroke="#444" stroke-width="0.7"/>
<rect x="204.57" y="244.86" width="2.05" height="16.24" fill="#40a050"/>
<line x1="205.60" y1="238.77" x2="205.60" y2="244.86" stroke="#3a7a44" stroke-width="0.7"/>
<line x1="204.80" y1="238.77" x2="206.40" y2="238.77" stroke="#444" stroke-width="0.7"/>
<rect x="207.78" y="246.28" width="2.05" height="14.82" fill="#1e406c"/>
<line x1="208.80" y1="243.34" x2="208.80" y2="246.28" stroke="#2a3a58" stroke-width="0.7"/>
<line x1="208.00" y1="243.34" x2="209.60" y2="243.34" stroke="#444" stroke-width="0.7"/>
<line x1="218.40" y1="261.10" x2="218.40" y2="262.90" stroke="#333333" stroke-width="0.8"/>
<text x="218.40" y="273.30" font-size="6.4" fill="#303030" text-anchor="middle">4</text>
<rect x="212.68" y="235.52" width="2.05" height="25.58" fill="#f0952e"/>
<line x1="213.70" y1="233.39" x2="213.70" y2="235.52" stroke="#b87a3a" stroke-width="0.7"/>
<line x1="212.90" y1="233.39" x2="214.50" y2="233.39" stroke="#444" stroke-width="0.7"/>
<rect x="215.82" y="237.04" width="2.05" height="24.06" fill="#a01c3a"/>
<line x1="216.85" y1="234.20" x2="216.85" y2="237.04" stroke="#7a2036" stroke-width="0.7"/>
<line x1="216.05" y1="234.20" x2="217.65" y2="234.20" stroke="#444" stroke-width="0.7"/>
<rect x="218.97" y="230.65" width="2.05" height="30.45" fill="#40a050"/>
<line x1="220.00" y1="229.13" x2="220.00" y2="230.65" stroke="#3a7a44" stroke-width="0.7"/>
<line x1="219.20" y1="229.13" x2="220.80" y2="229.13" stroke="#444" stroke-width="0.7"/>
<rect x="222.18" y="233.49" width="2.05" height="27.61" fill="#1e406c"/>
<line x1="223.20" y1="231.36" x2="223.20" y2="233.49" stroke="#2a3a58" stroke-width="0.7"/>
<line x1="222.40" y1="231.36" x2="224.00" y2="231.36" stroke="#444" stroke-width="0.7"/>
<line x1="232.90" y1="261.10" x2="232.90" y2="262.90" stroke="#333333" stroke-width="0.8"/>
<text x="232.90" y="273.30" font-size="6.4" fill="#303030" text-anchor="middle">6</text>
<rect x="227.18" y="231.36" width="2.05" height="29.74" fill="#f0952e"/>
<line x1="228.20" y1="230.35" x2="228.20" y2="231.36" stroke="#b87a3a" stroke-width="0.7"/>
<line x1="227.40" y1="230.35" x2="229.00" y2="230.35" stroke="#444" stroke-width="0.7"/>
<rect x="230.32" y="230.04" width="2.05" height="31.06" fill="#a01c3a"/>
<line x1="231.35" y1="226.18" x2="231.35" y2="230.04" stroke="#7a2036" stroke-width="0.7"/>
<line x1="230.55" y1="226.18" x2="232.15" y2="226.18" stroke="#444" stroke-width="0.7"/>
<rect x="233.47" y="226.39" width="2.05" height="34.71" fill="#40a050"/>
<line x1="234.50" y1="224.26" x2="234.50" y2="226.39" stroke="#3a7a44" stroke-width="0.7"/>
<line x1="233.70" y1="224.26" x2="235.30" y2="224.26" stroke="#444" stroke-width="0.7"/>
<rect x="236.68" y="234.91" width="2.05" height="26.19" fill="#1e406c"/>
<line x1="237.70" y1="232.07" x2="237.70" y2="234.91" stroke="#2a3a58" stroke-width="0.7"/>
<line x1="236.90" y1="232.07" x2="238.50" y2="232.07" stroke="#444" stroke-width="0.7"/>
<line x1="247.30" y1="261.10" x2="247.30" y2="262.90" stroke="#333333" stroke-width="0.8"/>
<text x="247.30" y="273.30" font-size="6.4" fill="#303030" text-anchor="middle">8</text>
<rect x="241.58" y="226.39" width="2.05" height="34.71" fill="#f0952e"/>
<line x1="242.60" y1="224.26" x2="242.60" y2="226.39" stroke="#b87a3a" stroke-width="0.7"/>
<line x1="241.80" y1="224.26" x2="243.40" y2="224.26" stroke="#444" stroke-width="0.7"/>
<rect x="244.72" y="228.62" width="2.05" height="32.48" fill="#a01c3a"/>
<line x1="245.75" y1="223.55" x2="245.75" y2="228.62" stroke="#7a2036" stroke-width="0.7"/>
<line x1="244.95" y1="223.55" x2="246.55" y2="223.55" stroke="#444" stroke-width="0.7"/>
<rect x="247.88" y="226.39" width="2.05" height="34.71" fill="#40a050"/>
<line x1="248.90" y1="220.20" x2="248.90" y2="226.39" stroke="#3a7a44" stroke-width="0.7"/>
<line x1="248.10" y1="220.20" x2="249.70" y2="220.20" stroke="#444" stroke-width="0.7"/>
<rect x="251.08" y="227.61" width="2.05" height="33.50" fill="#1e406c"/>
<line x1="252.10" y1="220.20" x2="252.10" y2="227.61" stroke="#2a3a58" stroke-width="0.7"/>
<line x1="251.30" y1="220.20" x2="252.90" y2="220.20" stroke="#444" stroke-width="0.7"/>
<line x1="277.00" y1="261.10" x2="277.00" y2="262.90" stroke="#333333" stroke-width="0.8"/>
<text x="277.00" y="273.30" font-size="6.4" fill="#303030" text-anchor="middle">Pre</text>
<line x1="291.00" y1="261.10" x2="291.00" y2="262.90" stroke="#333333" stroke-width="0.8"/>
<text x="291.00" y="273.30" font-size="6.4" fill="#303030" text-anchor="middle">1</text>
<rect x="285.28" y="253.18" width="2.05" height="7.92" fill="#f0952e"/>
<line x1="286.30" y1="251.97" x2="286.30" y2="253.18" stroke="#b87a3a" stroke-width="0.7"/>
<line x1="285.50" y1="251.97" x2="287.10" y2="251.97" stroke="#444" stroke-width="0.7"/>
<rect x="291.58" y="250.14" width="2.05" height="10.96" fill="#40a050"/>
<line x1="292.60" y1="248.92" x2="292.60" y2="250.14" stroke="#3a7a44" stroke-width="0.7"/>
<line x1="291.80" y1="248.92" x2="293.40" y2="248.92" stroke="#444" stroke-width="0.7"/>
<line x1="305.80" y1="261.10" x2="305.80" y2="262.90" stroke="#333333" stroke-width="0.8"/>
<text x="305.80" y="273.30" font-size="6.4" fill="#303030" text-anchor="middle">2</text>
<rect x="300.08" y="251.76" width="2.05" height="9.34" fill="#f0952e"/>
<line x1="301.10" y1="250.44" x2="301.10" y2="251.76" stroke="#b87a3a" stroke-width="0.7"/>
<line x1="300.30" y1="250.44" x2="301.90" y2="250.44" stroke="#444" stroke-width="0.7"/>
<rect x="303.23" y="260.59" width="2.05" height="0.51" fill="#a01c3a"/>
<line x1="304.25" y1="260.09" x2="304.25" y2="260.59" stroke="#7a2036" stroke-width="0.7"/>
<line x1="303.45" y1="260.09" x2="305.05" y2="260.09" stroke="#444" stroke-width="0.7"/>
<rect x="306.38" y="254.30" width="2.05" height="6.80" fill="#40a050"/>
<line x1="307.40" y1="252.98" x2="307.40" y2="254.30" stroke="#3a7a44" stroke-width="0.7"/>
<line x1="306.60" y1="252.98" x2="308.20" y2="252.98" stroke="#444" stroke-width="0.7"/>
<line x1="319.80" y1="261.10" x2="319.80" y2="262.90" stroke="#333333" stroke-width="0.8"/>
<text x="319.80" y="273.30" font-size="6.4" fill="#303030" text-anchor="middle">3</text>
<rect x="314.08" y="251.76" width="2.05" height="9.34" fill="#f0952e"/>
<line x1="315.10" y1="250.95" x2="315.10" y2="251.76" stroke="#b87a3a" stroke-width="0.7"/>
<line x1="314.30" y1="250.95" x2="315.90" y2="250.95" stroke="#444" stroke-width="0.7"/>
<rect x="317.23" y="251.97" width="2.05" height="9.13" fill="#a01c3a"/>
<line x1="318.25" y1="250.95" x2="318.25" y2="251.97" stroke="#7a2036" stroke-width="0.7"/>
<line x1="317.45" y1="250.95" x2="319.05" y2="250.95" stroke="#444" stroke-width="0.7"/>
<rect x="320.38" y="253.69" width="2.05" height="7.41" fill="#40a050"/>
<line x1="321.40" y1="252.98" x2="321.40" y2="253.69" stroke="#3a7a44" stroke-width="0.7"/>
<line x1="320.60" y1="252.98" x2="322.20" y2="252.98" stroke="#444" stroke-width="0.7"/>
<rect x="323.58" y="260.59" width="2.05" height="0.51" fill="#1e406c"/>
<line x1="324.60" y1="260.09" x2="324.60" y2="260.59" stroke="#2a3a58" stroke-width="0.7"/>
<line x1="323.80" y1="260.09" x2="325.40" y2="260.09" stroke="#444" stroke-width="0.7"/>
<line x1="334.40" y1="261.10" x2="334.40" y2="262.90" stroke="#333333" stroke-width="0.8"/>
<text x="334.40" y="273.30" font-size="6.4" fill="#303030" text-anchor="middle">4</text>
<rect x="328.68" y="251.36" width="2.05" height="9.74" fill="#f0952e"/>
<line x1="329.70" y1="250.75" x2="329.70" y2="251.36" stroke="#b87a3a" stroke-width="0.7"/>
<line x1="328.90" y1="250.75" x2="330.50" y2="250.75" stroke="#444" stroke-width="0.7"/>
<rect x="331.82" y="250.65" width="2.05" height="10.45" fill="#a01c3a"/>
<line x1="332.85" y1="249.94" x2="332.85" y2="250.65" stroke="#7a2036" stroke-width="0.7"/>
<line x1="332.05" y1="249.94" x2="333.65" y2="249.94" stroke="#444" stroke-width="0.7"/>
<rect x="334.98" y="249.02" width="2.05" height="12.08" fill="#40a050"/>
<line x1="336.00" y1="248.41" x2="336.00" y2="249.02" stroke="#3a7a44" stroke-width="0.7"/>
<line x1="335.20" y1="248.41" x2="336.80" y2="248.41" stroke="#444" stroke-width="0.7"/>
<rect x="338.18" y="254.30" width="2.05" height="6.80" fill="#1e406c"/>
<line x1="339.20" y1="253.39" x2="339.20" y2="254.30" stroke="#2a3a58" stroke-width="0.7"/>
<line x1="338.40" y1="253.39" x2="340.00" y2="253.39" stroke="#444" stroke-width="0.7"/>
<line x1="348.70" y1="261.10" x2="348.70" y2="262.90" stroke="#333333" stroke-width="0.8"/>
<text x="348.70" y="273.30" font-size="6.4" fill="#303030" text-anchor="middle">6</text>
<rect x="342.98" y="249.83" width="2.05" height="11.27" fill="#f0952e"/>
<line x1="344.00" y1="248.92" x2="344.00" y2="249.83" stroke="#b87a3a" stroke-width="0.7"/>
<line x1="343.20" y1="248.92" x2="344.80" y2="248.92" stroke="#444" stroke-width="0.7"/>
<rect x="346.12" y="248.21" width="2.05" height="12.89" fill="#a01c3a"/>
<line x1="347.15" y1="247.60" x2="347.15" y2="248.21" stroke="#7a2036" stroke-width="0.7"/>
<line x1="346.35" y1="247.60" x2="347.95" y2="247.60" stroke="#444" stroke-width="0.7"/>
<rect x="349.28" y="248.21" width="2.05" height="12.89" fill="#40a050"/>
<line x1="350.30" y1="247.60" x2="350.30" y2="248.21" stroke="#3a7a44" stroke-width="0.7"/>
<line x1="349.50" y1="247.60" x2="351.10" y2="247.60" stroke="#444" stroke-width="0.7"/>
<rect x="352.48" y="252.98" width="2.05" height="8.12" fill="#1e406c"/>
<line x1="353.50" y1="251.97" x2="353.50" y2="252.98" stroke="#2a3a58" stroke-width="0.7"/>
<line x1="352.70" y1="251.97" x2="354.30" y2="251.97" stroke="#444" stroke-width="0.7"/>
<line x1="363.40" y1="261.10" x2="363.40" y2="262.90" stroke="#333333" stroke-width="0.8"/>
<text x="363.40" y="273.30" font-size="6.4" fill="#303030" text-anchor="middle">8</text>
<rect x="357.68" y="247.91" width="2.05" height="13.19" fill="#f0952e"/>
<line x1="358.70" y1="247.40" x2="358.70" y2="247.91" stroke="#b87a3a" stroke-width="0.7"/>
<line x1="357.90" y1="247.40" x2="359.50" y2="247.40" stroke="#444" stroke-width="0.7"/>
<rect x="360.82" y="248.21" width="2.05" height="12.89" fill="#a01c3a"/>
<line x1="361.85" y1="247.60" x2="361.85" y2="248.21" stroke="#7a2036" stroke-width="0.7"/>
<line x1="361.05" y1="247.60" x2="362.65" y2="247.60" stroke="#444" stroke-width="0.7"/>
<rect x="363.98" y="248.21" width="2.05" height="12.89" fill="#40a050"/>
<line x1="365.00" y1="247.60" x2="365.00" y2="248.21" stroke="#3a7a44" stroke-width="0.7"/>
<line x1="364.20" y1="247.60" x2="365.80" y2="247.60" stroke="#444" stroke-width="0.7"/>
<rect x="367.18" y="248.51" width="2.05" height="12.59" fill="#1e406c"/>
<line x1="368.20" y1="247.91" x2="368.20" y2="248.51" stroke="#2a3a58" stroke-width="0.7"/>
<line x1="367.40" y1="247.91" x2="369.00" y2="247.91" stroke="#444" stroke-width="0.7"/>
<polyline points="54.30,226.51 54.30,198.60 57.45,198.60 57.45,258.60" fill="none" stroke="#7a7a7a" stroke-width="0.75"/>
<text x="55.88" y="198.50" font-size="6.2" fill="#3a3a3a" text-anchor="middle">****</text>
<polyline points="54.30,193.50 54.30,188.90 60.60,188.90 60.60,193.50" fill="none" stroke="#7a7a7a" stroke-width="0.75"/>
<text x="57.45" y="188.80" font-size="6.2" fill="#3a3a3a" text-anchor="middle">****</text>
<polyline points="68.70,222.55 68.70,198.60 71.85,198.60 71.85,256.96" fill="none" stroke="#7a7a7a" stroke-width="0.75"/>
<text x="70.28" y="198.50" font-size="6.2" fill="#3a3a3a" text-anchor="middle">****</text>
<polyline points="68.70,193.50 68.70,188.90 75.00,188.90 75.00,193.50" fill="none" stroke="#7a7a7a" stroke-width="0.75"/>
<text x="71.85" y="188.80" font-size="6.2" fill="#3a3a3a" text-anchor="middle">****</text>
<polyline points="68.70,183.20 68.70,178.60 78.20,178.60 78.20,183.20" fill="none" stroke="#7a7a7a" stroke-width="0.75"/>
<text x="73.45" y="178.50" font-size="6.2" fill="#3a3a3a" text-anchor="middle">****</text>
<polyline points="83.30,223.98 83.30,198.60 89.60,198.60 89.60,229.05" fill="none" stroke="#7a7a7a" stroke-width="0.75"/>
<text x="86.45" y="198.50" font-size="6.2" fill="#3a3a3a" text-anchor="middle">****</text>
<polyline points="83.30,193.50 83.30,188.90 92.80,188.90 92.80,193.50" fill="none" stroke="#7a7a7a" stroke-width="0.75"/>
<text x="88.05" y="188.80" font-size="6.2" fill="#3a3a3a" text-anchor="middle">****</text>
<polyline points="97.80,222.66 97.80,198.60 104.10,198.60 104.10,216.36" fill="none" stroke="#7a7a7a" stroke-width="0.75"/>
<text x="100.95" y="198.50" font-size="6.2" fill="#3a3a3a" text-anchor="middle">***</text>
<polyline points="112.30,216.87 112.30,198.60 118.60,198.60 118.60,209.26" fill="none" stroke="#7a7a7a" stroke-width="0.75"/>
<text x="115.45" y="198.50" font-size="6.2" fill="#3a3a3a" text-anchor="middle">***</text>
<polyline points="112.30,193.50 112.30,188.90 121.80,188.90 121.80,193.50" fill="none" stroke="#7a7a7a" stroke-width="0.75"/>
<text x="117.05" y="188.80" font-size="6.2" fill="#3a3a3a" text-anchor="middle">*</text>
<polyline points="170.30,234.73 170.30,198.60 173.45,198.60 173.45,258.60" fill="none" stroke="#7a7a7a" stroke-width="0.75"/>
<text x="171.88" y="198.50" font-size="6.2" fill="#3a3a3a" text-anchor="middle">****</text>
<polyline points="170.30,193.50 170.30,188.90 176.60,188.90 176.60,193.50" fill="none" stroke="#7a7a7a" stroke-width="0.75"/>
<text x="173.45" y="188.80" font-size="6.2" fill="#3a3a3a" text-anchor="middle">****</text>
<polyline points="184.70,231.59 184.70,198.60 187.85,198.60 187.85,257.98" fill="none" stroke="#7a7a7a" stroke-width="0.75"/>
<text x="186.28" y="198.50" font-size="6.2" fill="#3a3a3a" text-anchor="middle">****</text>
<polyline points="184.70,193.50 184.70,188.90 191.00,188.90 191.00,193.50" fill="none" stroke="#7a7a7a" stroke-width="0.75"/>
<text x="187.85" y="188.80" font-size="6.2" fill="#3a3a3a" text-anchor="middle">****</text>
<polyline points="199.30,232.60 199.30,198.60 202.45,198.60 202.45,235.44" fill="none" stroke="#7a7a7a" stroke-width="0.75"/>
<text x="200.88" y="198.50" font-size="6.2" fill="#3a3a3a" text-anchor="middle">*</text>
<polyline points="199.30,193.50 199.30,188.90 205.60,188.90 205.60,193.50" fill="none" stroke="#7a7a7a" stroke-width="0.75"/>
<text x="202.45" y="188.80" font-size="6.2" fill="#3a3a3a" text-anchor="middle">***</text>
<polyline points="199.30,183.20 199.30,178.60 208.80,178.60 208.80,183.20" fill="none" stroke="#7a7a7a" stroke-width="0.75"/>
<text x="204.05" y="178.50" font-size="6.2" fill="#3a3a3a" text-anchor="middle">****</text>
<polyline points="213.70,231.79 213.70,198.60 220.00,198.60 220.00,227.53" fill="none" stroke="#7a7a7a" stroke-width="0.75"/>
<text x="216.85" y="198.50" font-size="6.2" fill="#3a3a3a" text-anchor="middle">**</text>
<polyline points="228.20,228.75 228.20,198.60 234.50,198.60 234.50,222.66" fill="none" stroke="#7a7a7a" stroke-width="0.75"/>
<text x="231.35" y="198.50" font-size="6.2" fill="#3a3a3a" text-anchor="middle">*</text>
<polyline points="286.30,250.37 286.30,198.60 289.45,198.60 289.45,258.60" fill="none" stroke="#7a7a7a" stroke-width="0.75"/>
<text x="287.88" y="198.50" font-size="6.2" fill="#3a3a3a" text-anchor="middle">**</text>
<polyline points="286.30,193.50 286.30,188.90 295.80,188.90 295.80,258.60" fill="none" stroke="#7a7a7a" stroke-width="0.75"/>
<text x="291.05" y="188.80" font-size="6.2" fill="#3a3a3a" text-anchor="middle">**</text>
<polyline points="301.10,248.84 301.10,198.60 304.25,198.60 304.25,258.49" fill="none" stroke="#7a7a7a" stroke-width="0.75"/>
<text x="302.68" y="198.50" font-size="6.2" fill="#3a3a3a" text-anchor="middle">***</text>
<polyline points="301.10,193.50 301.10,188.90 310.60,188.90 310.60,258.60" fill="none" stroke="#7a7a7a" stroke-width="0.75"/>
<text x="305.85" y="188.80" font-size="6.2" fill="#3a3a3a" text-anchor="middle">***</text>
<polyline points="315.10,249.35 315.10,198.60 324.60,198.60 324.60,258.49" fill="none" stroke="#7a7a7a" stroke-width="0.75"/>
<text x="319.85" y="198.50" font-size="6.2" fill="#3a3a3a" text-anchor="middle">**</text>
<text x="70.60" y="168.60" font-size="8.4" fill="#303030" textLength="35" lengthAdjust="spacingAndGlyphs">All T cells</text>
<text x="178.9" y="168.6" font-size="8.4" fill="#303030" textLength="48" lengthAdjust="spacingAndGlyphs">CD4<tspan font-size="70%" baseline-shift="super">+</tspan> T cells</text>
<text x="293.5" y="168.6" font-size="8.4" fill="#303030" textLength="48" lengthAdjust="spacingAndGlyphs">CD8<tspan font-size="70%" baseline-shift="super">+</tspan> T cells</text>
<rect x="381.80" y="198.00" width="6.90" height="3.60" fill="#f0952e"/>
<text x="392.20" y="202.00" font-size="6.34" fill="#3c3c3c">Uninjected control (n = 5)</text>
<rect x="381.80" y="207.97" width="6.90" height="3.60" fill="#a01c3a"/>
<text x="392.20" y="211.97" font-size="6.34" fill="#3c3c3c">Anti-CD3 mAb (n = 9)</text>
<rect x="381.80" y="217.94" width="6.90" height="3.60" fill="#40a050"/>
<text x="392.20" y="221.94" font-size="6.34" fill="#3c3c3c">Anti-CD4 mAb (n = 9)</text>
<rect x="381.80" y="227.91" width="6.90" height="3.60" fill="#1e406c"/>
<text x="392.20" y="231.91" font-size="6.34" fill="#3c3c3c">Anti-CD8 mAb (n = 7)</text>
<text x="8.20" y="294.30" font-size="11" fill="#111" font-weight="bold">C</text>
<line x1="37.80" y1="300.30" x2="37.80" y2="361.00" stroke="#333333" stroke-width="1.4"/>
<line x1="35.20" y1="360.40" x2="37.80" y2="360.40" stroke="#333333" stroke-width="0.9"/>
<text x="31.80" y="362.75" font-size="6.6" fill="#303030" text-anchor="end">0</text>
<line x1="35.20" y1="348.94" x2="37.80" y2="348.94" stroke="#333333" stroke-width="0.9"/>
<text x="31.80" y="351.29" font-size="6.6" fill="#303030" text-anchor="end">2</text>
<line x1="35.20" y1="337.48" x2="37.80" y2="337.48" stroke="#333333" stroke-width="0.9"/>
<text x="31.80" y="339.83" font-size="6.6" fill="#303030" text-anchor="end">4</text>
<line x1="35.20" y1="326.02" x2="37.80" y2="326.02" stroke="#333333" stroke-width="0.9"/>
<text x="31.80" y="328.37" font-size="6.6" fill="#303030" text-anchor="end">6</text>
<line x1="35.20" y1="314.56" x2="37.80" y2="314.56" stroke="#333333" stroke-width="0.9"/>
<text x="31.80" y="316.91" font-size="6.6" fill="#303030" text-anchor="end">8</text>
<line x1="35.20" y1="303.10" x2="37.80" y2="303.10" stroke="#333333" stroke-width="0.9"/>
<text x="31.80" y="305.45" font-size="6.6" fill="#303030" text-anchor="end">10</text>
<line x1="37.30" y1="360.40" x2="216.20" y2="360.40" stroke="#333333" stroke-width="1.2"/>
<line x1="52.00" y1="360.40" x2="52.00" y2="362.60" stroke="#333333" stroke-width="0.8"/>
<text x="52.00" y="372.70" font-size="6.6" fill="#303030" text-anchor="middle">1</text>
<line x1="82.10" y1="360.40" x2="82.10" y2="362.60" stroke="#333333" stroke-width="0.8"/>
<text x="82.10" y="372.70" font-size="6.6" fill="#303030" text-anchor="middle">2</text>
<line x1="112.00" y1="360.40" x2="112.00" y2="362.60" stroke="#333333" stroke-width="0.8"/>
<text x="112.00" y="372.70" font-size="6.6" fill="#303030" text-anchor="middle">3</text>
<line x1="142.00" y1="360.40" x2="142.00" y2="362.60" stroke="#333333" stroke-width="0.8"/>
<text x="142.00" y="372.70" font-size="6.6" fill="#303030" text-anchor="middle">4</text>
<line x1="172.20" y1="360.40" x2="172.20" y2="362.60" stroke="#333333" stroke-width="0.8"/>
<text x="172.20" y="372.70" font-size="6.6" fill="#303030" text-anchor="middle">6</text>
<line x1="202.30" y1="360.40" x2="202.30" y2="362.60" stroke="#333333" stroke-width="0.8"/>
<text x="202.30" y="372.70" font-size="6.6" fill="#303030" text-anchor="middle">8</text>
<text x="126.60" y="384.40" font-size="8.8" fill="#303030" text-anchor="middle" textLength="54.4" lengthAdjust="spacingAndGlyphs" stroke="#2b2b2b" stroke-width="0.28">Weeks post-injection</text>
<text x="18.40" y="330.80" font-size="7.9" fill="#303030" text-anchor="middle" stroke="#303030" stroke-width="0.35" textLength="61.7" lengthAdjust="spacingAndGlyphs" transform="rotate(-90 18.40 330.80)">Interval weight gain (g)</text>
<line x1="102.40" y1="308.80" x2="121.50" y2="308.80" stroke="#666" stroke-width="0.8"/>
<text x="111.90" y="307.90" font-size="6.2" fill="#4a4a4a" text-anchor="middle">*</text>
<line x1="41.80" y1="336.77" x2="41.80" y2="339.33" stroke="#666" stroke-width="0.5"/>
<line x1="39.80" y1="338.05" x2="43.80" y2="338.05" stroke="#666" stroke-width="0.5"/>
<circle cx="41.80" cy="339.77" r="1.45" fill="#dea043" stroke="#6a4416" stroke-width="0.7"/>
<circle cx="41.10" cy="338.63" r="1.45" fill="#dea043" stroke="#6a4416" stroke-width="0.7"/>
<circle cx="42.50" cy="338.05" r="1.45" fill="#dea043" stroke="#6a4416" stroke-width="0.7"/>
<circle cx="41.40" cy="337.48" r="1.45" fill="#dea043" stroke="#6a4416" stroke-width="0.7"/>
<circle cx="42.20" cy="336.33" r="1.45" fill="#dea043" stroke="#6a4416" stroke-width="0.7"/>
<line x1="48.60" y1="332.60" x2="48.60" y2="339.50" stroke="#666" stroke-width="0.5"/>
<line x1="46.60" y1="336.05" x2="50.60" y2="336.05" stroke="#666" stroke-width="0.5"/>
<circle cx="48.60" cy="342.64" r="1.45" fill="#a3183a" stroke="#2e0810" stroke-width="0.7"/>
<circle cx="47.90" cy="336.33" r="1.45" fill="#a3183a" stroke="#2e0810" stroke-width="0.7"/>
<circle cx="49.30" cy="335.76" r="1.45" fill="#a3183a" stroke="#2e0810" stroke-width="0.7"/>
<circle cx="48.20" cy="334.61" r="1.45" fill="#a3183a" stroke="#2e0810" stroke-width="0.7"/>
<circle cx="49.00" cy="334.04" r="1.45" fill="#a3183a" stroke="#2e0810" stroke-width="0.7"/>
<circle cx="47.80" cy="332.90" r="1.45" fill="#a3183a" stroke="#2e0810" stroke-width="0.7"/>
<line x1="54.90" y1="333.82" x2="54.90" y2="339.99" stroke="#666" stroke-width="0.5"/>
<line x1="52.90" y1="336.91" x2="56.90" y2="336.91" stroke="#666" stroke-width="0.5"/>
<circle cx="54.90" cy="340.92" r="1.45" fill="#368a40" stroke="#12301a" stroke-width="0.7"/>
<circle cx="54.20" cy="338.63" r="1.45" fill="#368a40" stroke="#12301a" stroke-width="0.7"/>
<circle cx="55.60" cy="336.91" r="1.45" fill="#368a40" stroke="#12301a" stroke-width="0.7"/>
<circle cx="54.50" cy="335.19" r="1.45" fill="#368a40" stroke="#12301a" stroke-width="0.7"/>
<circle cx="55.30" cy="332.90" r="1.45" fill="#368a40" stroke="#12301a" stroke-width="0.7"/>
<line x1="61.50" y1="341.64" x2="61.50" y2="345.06" stroke="#666" stroke-width="0.5"/>
<line x1="59.50" y1="343.35" x2="63.50" y2="343.35" stroke="#666" stroke-width="0.5"/>
<circle cx="61.50" cy="345.50" r="1.45" fill="#1e4066" stroke="#0a1424" stroke-width="0.7"/>
<circle cx="60.80" cy="343.78" r="1.45" fill="#1e4066" stroke="#0a1424" stroke-width="0.7"/>
<circle cx="62.20" cy="342.64" r="1.45" fill="#1e4066" stroke="#0a1424" stroke-width="0.7"/>
<circle cx="61.10" cy="341.49" r="1.45" fill="#1e4066" stroke="#0a1424" stroke-width="0.7"/>
<line x1="71.90" y1="340.97" x2="71.90" y2="341.63" stroke="#666" stroke-width="0.5"/>
<line x1="69.90" y1="341.30" x2="73.90" y2="341.30" stroke="#666" stroke-width="0.5"/>
<circle cx="71.90" cy="341.49" r="1.45" fill="#dea043" stroke="#6a4416" stroke-width="0.7"/>
<circle cx="71.20" cy="341.49" r="1.45" fill="#dea043" stroke="#6a4416" stroke-width="0.7"/>
<circle cx="72.60" cy="340.92" r="1.45" fill="#dea043" stroke="#6a4416" stroke-width="0.7"/>
<line x1="78.70" y1="339.42" x2="78.70" y2="342.99" stroke="#666" stroke-width="0.5"/>
<line x1="76.70" y1="341.20" x2="80.70" y2="341.20" stroke="#666" stroke-width="0.5"/>
<circle cx="78.70" cy="343.21" r="1.45" fill="#a3183a" stroke="#2e0810" stroke-width="0.7"/>
<circle cx="78.00" cy="342.06" r="1.45" fill="#a3183a" stroke="#2e0810" stroke-width="0.7"/>
<circle cx="79.40" cy="340.34" r="1.45" fill="#a3183a" stroke="#2e0810" stroke-width="0.7"/>
<circle cx="78.30" cy="339.20" r="1.45" fill="#a3183a" stroke="#2e0810" stroke-width="0.7"/>
<line x1="85.00" y1="336.90" x2="85.00" y2="343.10" stroke="#666" stroke-width="0.5"/>
<line x1="83.00" y1="340.00" x2="87.00" y2="340.00" stroke="#666" stroke-width="0.5"/>
<circle cx="85.00" cy="344.36" r="1.45" fill="#368a40" stroke="#12301a" stroke-width="0.7"/>
<circle cx="84.30" cy="341.49" r="1.45" fill="#368a40" stroke="#12301a" stroke-width="0.7"/>
<circle cx="85.70" cy="339.77" r="1.45" fill="#368a40" stroke="#12301a" stroke-width="0.7"/>
<circle cx="84.60" cy="338.05" r="1.45" fill="#368a40" stroke="#12301a" stroke-width="0.7"/>
<circle cx="85.40" cy="336.33" r="1.45" fill="#368a40" stroke="#12301a" stroke-width="0.7"/>
<line x1="91.60" y1="344.27" x2="91.60" y2="349.60" stroke="#666" stroke-width="0.5"/>
<line x1="89.60" y1="346.93" x2="93.60" y2="346.93" stroke="#666" stroke-width="0.5"/>
<circle cx="91.60" cy="350.09" r="1.45" fill="#1e4066" stroke="#0a1424" stroke-width="0.7"/>
<circle cx="90.90" cy="347.79" r="1.45" fill="#1e4066" stroke="#0a1424" stroke-width="0.7"/>
<circle cx="92.30" cy="346.07" r="1.45" fill="#1e4066" stroke="#0a1424" stroke-width="0.7"/>
<circle cx="91.20" cy="343.78" r="1.45" fill="#1e4066" stroke="#0a1424" stroke-width="0.7"/>
<line x1="101.80" y1="349.05" x2="101.80" y2="354.85" stroke="#666" stroke-width="0.5"/>
<line x1="99.80" y1="351.95" x2="103.80" y2="351.95" stroke="#666" stroke-width="0.5"/>
<circle cx="101.80" cy="355.24" r="1.45" fill="#dea043" stroke="#6a4416" stroke-width="0.7"/>
<circle cx="101.10" cy="352.95" r="1.45" fill="#dea043" stroke="#6a4416" stroke-width="0.7"/>
<circle cx="102.50" cy="351.23" r="1.45" fill="#dea043" stroke="#6a4416" stroke-width="0.7"/>
<circle cx="101.40" cy="348.37" r="1.45" fill="#dea043" stroke="#6a4416" stroke-width="0.7"/>
<line x1="108.60" y1="347.53" x2="108.60" y2="354.24" stroke="#666" stroke-width="0.5"/>
<line x1="106.60" y1="350.89" x2="110.60" y2="350.89" stroke="#666" stroke-width="0.5"/>
<circle cx="108.60" cy="355.24" r="1.45" fill="#a3183a" stroke="#2e0810" stroke-width="0.7"/>
<circle cx="107.90" cy="352.95" r="1.45" fill="#a3183a" stroke="#2e0810" stroke-width="0.7"/>
<circle cx="109.30" cy="350.66" r="1.45" fill="#a3183a" stroke="#2e0810" stroke-width="0.7"/>
<circle cx="108.20" cy="348.94" r="1.45" fill="#a3183a" stroke="#2e0810" stroke-width="0.7"/>
<circle cx="109.00" cy="346.65" r="1.45" fill="#a3183a" stroke="#2e0810" stroke-width="0.7"/>
<line x1="114.90" y1="347.37" x2="114.90" y2="354.64" stroke="#666" stroke-width="0.5"/>
<line x1="112.90" y1="351.00" x2="116.90" y2="351.00" stroke="#666" stroke-width="0.5"/>
<circle cx="114.90" cy="355.24" r="1.45" fill="#368a40" stroke="#12301a" stroke-width="0.7"/>
<circle cx="114.20" cy="353.52" r="1.45" fill="#368a40" stroke="#12301a" stroke-width="0.7"/>
<circle cx="115.60" cy="351.23" r="1.45" fill="#368a40" stroke="#12301a" stroke-width="0.7"/>
<circle cx="114.50" cy="348.94" r="1.45" fill="#368a40" stroke="#12301a" stroke-width="0.7"/>
<circle cx="115.30" cy="346.07" r="1.45" fill="#368a40" stroke="#12301a" stroke-width="0.7"/>
<line x1="121.50" y1="344.75" x2="121.50" y2="350.55" stroke="#666" stroke-width="0.5"/>
<line x1="119.50" y1="347.65" x2="123.50" y2="347.65" stroke="#666" stroke-width="0.5"/>
<circle cx="121.50" cy="351.23" r="1.45" fill="#1e4066" stroke="#0a1424" stroke-width="0.7"/>
<circle cx="120.80" cy="348.37" r="1.45" fill="#1e4066" stroke="#0a1424" stroke-width="0.7"/>
<circle cx="122.20" cy="346.65" r="1.45" fill="#1e4066" stroke="#0a1424" stroke-width="0.7"/>
<circle cx="121.10" cy="344.36" r="1.45" fill="#1e4066" stroke="#0a1424" stroke-width="0.7"/>
<line x1="131.80" y1="324.26" x2="131.80" y2="338.95" stroke="#666" stroke-width="0.5"/>
<line x1="129.80" y1="331.61" x2="133.80" y2="331.61" stroke="#666" stroke-width="0.5"/>
<circle cx="131.80" cy="339.77" r="1.45" fill="#dea043" stroke="#6a4416" stroke-width="0.7"/>
<circle cx="131.10" cy="334.61" r="1.45" fill="#dea043" stroke="#6a4416" stroke-width="0.7"/>
<circle cx="132.50" cy="329.46" r="1.45" fill="#dea043" stroke="#6a4416" stroke-width="0.7"/>
<circle cx="131.40" cy="322.58" r="1.45" fill="#dea043" stroke="#6a4416" stroke-width="0.7"/>
<line x1="138.60" y1="324.96" x2="138.60" y2="339.68" stroke="#666" stroke-width="0.5"/>
<line x1="136.60" y1="332.32" x2="140.60" y2="332.32" stroke="#666" stroke-width="0.5"/>
<circle cx="138.60" cy="343.78" r="1.45" fill="#a3183a" stroke="#2e0810" stroke-width="0.7"/>
<circle cx="137.90" cy="338.63" r="1.45" fill="#a3183a" stroke="#2e0810" stroke-width="0.7"/>
<circle cx="139.30" cy="335.19" r="1.45" fill="#a3183a" stroke="#2e0810" stroke-width="0.7"/>
<circle cx="138.20" cy="331.75" r="1.45" fill="#a3183a" stroke="#2e0810" stroke-width="0.7"/>
<circle cx="139.00" cy="328.31" r="1.45" fill="#a3183a" stroke="#2e0810" stroke-width="0.7"/>
<circle cx="137.80" cy="324.87" r="1.45" fill="#a3183a" stroke="#2e0810" stroke-width="0.7"/>
<circle cx="139.40" cy="323.73" r="1.45" fill="#a3183a" stroke="#2e0810" stroke-width="0.7"/>
<line x1="144.90" y1="327.75" x2="144.90" y2="338.27" stroke="#666" stroke-width="0.5"/>
<line x1="142.90" y1="333.01" x2="146.90" y2="333.01" stroke="#666" stroke-width="0.5"/>
<circle cx="144.90" cy="339.77" r="1.45" fill="#368a40" stroke="#12301a" stroke-width="0.7"/>
<circle cx="144.20" cy="336.33" r="1.45" fill="#368a40" stroke="#12301a" stroke-width="0.7"/>
<circle cx="145.60" cy="332.90" r="1.45" fill="#368a40" stroke="#12301a" stroke-width="0.7"/>
<circle cx="144.50" cy="329.46" r="1.45" fill="#368a40" stroke="#12301a" stroke-width="0.7"/>
<circle cx="145.30" cy="326.59" r="1.45" fill="#368a40" stroke="#12301a" stroke-width="0.7"/>
<line x1="151.50" y1="334.47" x2="151.50" y2="347.65" stroke="#666" stroke-width="0.5"/>
<line x1="149.50" y1="341.06" x2="153.50" y2="341.06" stroke="#666" stroke-width="0.5"/>
<circle cx="151.50" cy="348.94" r="1.45" fill="#1e4066" stroke="#0a1424" stroke-width="0.7"/>
<circle cx="150.80" cy="343.21" r="1.45" fill="#1e4066" stroke="#0a1424" stroke-width="0.7"/>
<circle cx="152.20" cy="338.63" r="1.45" fill="#1e4066" stroke="#0a1424" stroke-width="0.7"/>
<circle cx="151.10" cy="333.47" r="1.45" fill="#1e4066" stroke="#0a1424" stroke-width="0.7"/>
<line x1="162.00" y1="325.00" x2="162.00" y2="334.61" stroke="#666" stroke-width="0.5"/>
<line x1="160.00" y1="329.80" x2="164.00" y2="329.80" stroke="#666" stroke-width="0.5"/>
<circle cx="162.00" cy="335.76" r="1.45" fill="#dea043" stroke="#6a4416" stroke-width="0.7"/>
<circle cx="161.30" cy="332.90" r="1.45" fill="#dea043" stroke="#6a4416" stroke-width="0.7"/>
<circle cx="162.70" cy="330.03" r="1.45" fill="#dea043" stroke="#6a4416" stroke-width="0.7"/>
<circle cx="161.60" cy="326.59" r="1.45" fill="#dea043" stroke="#6a4416" stroke-width="0.7"/>
<circle cx="162.40" cy="323.73" r="1.45" fill="#dea043" stroke="#6a4416" stroke-width="0.7"/>
<line x1="168.80" y1="322.40" x2="168.80" y2="343.07" stroke="#666" stroke-width="0.5"/>
<line x1="166.80" y1="332.73" x2="170.80" y2="332.73" stroke="#666" stroke-width="0.5"/>
<circle cx="168.80" cy="347.22" r="1.45" fill="#a3183a" stroke="#2e0810" stroke-width="0.7"/>
<circle cx="168.10" cy="340.34" r="1.45" fill="#a3183a" stroke="#2e0810" stroke-width="0.7"/>
<circle cx="169.50" cy="337.48" r="1.45" fill="#a3183a" stroke="#2e0810" stroke-width="0.7"/>
<circle cx="168.40" cy="333.47" r="1.45" fill="#a3183a" stroke="#2e0810" stroke-width="0.7"/>
<circle cx="169.20" cy="328.88" r="1.45" fill="#a3183a" stroke="#2e0810" stroke-width="0.7"/>
<circle cx="168.00" cy="326.02" r="1.45" fill="#a3183a" stroke="#2e0810" stroke-width="0.7"/>
<circle cx="169.60" cy="315.71" r="1.45" fill="#a3183a" stroke="#2e0810" stroke-width="0.7"/>
<line x1="175.10" y1="329.21" x2="175.10" y2="339.63" stroke="#666" stroke-width="0.5"/>
<line x1="173.10" y1="334.42" x2="177.10" y2="334.42" stroke="#666" stroke-width="0.5"/>
<circle cx="175.10" cy="341.49" r="1.45" fill="#368a40" stroke="#12301a" stroke-width="0.7"/>
<circle cx="174.40" cy="338.63" r="1.45" fill="#368a40" stroke="#12301a" stroke-width="0.7"/>
<circle cx="175.80" cy="335.76" r="1.45" fill="#368a40" stroke="#12301a" stroke-width="0.7"/>
<circle cx="174.70" cy="332.90" r="1.45" fill="#368a40" stroke="#12301a" stroke-width="0.7"/>
<circle cx="175.50" cy="330.03" r="1.45" fill="#368a40" stroke="#12301a" stroke-width="0.7"/>
<circle cx="174.30" cy="327.74" r="1.45" fill="#368a40" stroke="#12301a" stroke-width="0.7"/>
<line x1="181.70" y1="326.88" x2="181.70" y2="338.62" stroke="#666" stroke-width="0.5"/>
<line x1="179.70" y1="332.75" x2="183.70" y2="332.75" stroke="#666" stroke-width="0.5"/>
<circle cx="181.70" cy="339.20" r="1.45" fill="#1e4066" stroke="#0a1424" stroke-width="0.7"/>
<circle cx="181.00" cy="335.76" r="1.45" fill="#1e4066" stroke="#0a1424" stroke-width="0.7"/>
<circle cx="182.40" cy="330.03" r="1.45" fill="#1e4066" stroke="#0a1424" stroke-width="0.7"/>
<circle cx="181.30" cy="326.02" r="1.45" fill="#1e4066" stroke="#0a1424" stroke-width="0.7"/>
<line x1="192.10" y1="346.00" x2="192.10" y2="355.31" stroke="#666" stroke-width="0.5"/>
<line x1="190.10" y1="350.66" x2="194.10" y2="350.66" stroke="#666" stroke-width="0.5"/>
<circle cx="192.10" cy="356.96" r="1.45" fill="#dea043" stroke="#6a4416" stroke-width="0.7"/>
<circle cx="191.40" cy="353.52" r="1.45" fill="#dea043" stroke="#6a4416" stroke-width="0.7"/>
<circle cx="192.80" cy="350.09" r="1.45" fill="#dea043" stroke="#6a4416" stroke-width="0.7"/>
<circle cx="191.70" cy="347.22" r="1.45" fill="#dea043" stroke="#6a4416" stroke-width="0.7"/>
<circle cx="192.50" cy="345.50" r="1.45" fill="#dea043" stroke="#6a4416" stroke-width="0.7"/>
<line x1="198.90" y1="346.17" x2="198.90" y2="353.14" stroke="#666" stroke-width="0.5"/>
<line x1="196.90" y1="349.66" x2="200.90" y2="349.66" stroke="#666" stroke-width="0.5"/>
<circle cx="198.90" cy="353.52" r="1.45" fill="#a3183a" stroke="#2e0810" stroke-width="0.7"/>
<circle cx="198.20" cy="351.23" r="1.45" fill="#a3183a" stroke="#2e0810" stroke-width="0.7"/>
<circle cx="199.60" cy="348.37" r="1.45" fill="#a3183a" stroke="#2e0810" stroke-width="0.7"/>
<circle cx="198.50" cy="345.50" r="1.45" fill="#a3183a" stroke="#2e0810" stroke-width="0.7"/>
<line x1="205.20" y1="348.96" x2="205.20" y2="357.86" stroke="#666" stroke-width="0.5"/>
<line x1="203.20" y1="353.41" x2="207.20" y2="353.41" stroke="#666" stroke-width="0.5"/>
<circle cx="205.20" cy="359.25" r="1.45" fill="#368a40" stroke="#12301a" stroke-width="0.7"/>
<circle cx="204.50" cy="355.82" r="1.45" fill="#368a40" stroke="#12301a" stroke-width="0.7"/>
<circle cx="205.90" cy="353.52" r="1.45" fill="#368a40" stroke="#12301a" stroke-width="0.7"/>
<circle cx="204.80" cy="350.66" r="1.45" fill="#368a40" stroke="#12301a" stroke-width="0.7"/>
<circle cx="205.60" cy="347.79" r="1.45" fill="#368a40" stroke="#12301a" stroke-width="0.7"/>
<line x1="211.80" y1="351.80" x2="211.80" y2="355.24" stroke="#666" stroke-width="0.5"/>
<line x1="209.80" y1="353.52" x2="213.80" y2="353.52" stroke="#666" stroke-width="0.5"/>
<circle cx="211.80" cy="355.24" r="1.45" fill="#1e4066" stroke="#0a1424" stroke-width="0.7"/>
<circle cx="211.10" cy="353.52" r="1.45" fill="#1e4066" stroke="#0a1424" stroke-width="0.7"/>
<circle cx="212.50" cy="351.80" r="1.45" fill="#1e4066" stroke="#0a1424" stroke-width="0.7"/>
<text x="225.60" y="294.30" font-size="11" fill="#111" font-weight="bold">D</text>
<line x1="252.20" y1="299.40" x2="252.20" y2="361.10" stroke="#333333" stroke-width="1.4"/>
<line x1="249.60" y1="360.50" x2="252.20" y2="360.50" stroke="#333333" stroke-width="0.9"/>
<text x="246.20" y="362.85" font-size="6.6" fill="#303030" text-anchor="end">0</text>
<line x1="249.60" y1="345.79" x2="252.20" y2="345.79" stroke="#333333" stroke-width="0.9"/>
<text x="246.20" y="348.14" font-size="6.6" fill="#303030" text-anchor="end">20</text>
<line x1="249.60" y1="331.08" x2="252.20" y2="331.08" stroke="#333333" stroke-width="0.9"/>
<text x="246.20" y="333.43" font-size="6.6" fill="#303030" text-anchor="end">40</text>
<line x1="249.60" y1="316.37" x2="252.20" y2="316.37" stroke="#333333" stroke-width="0.9"/>
<text x="246.20" y="318.72" font-size="6.6" fill="#303030" text-anchor="end">60</text>
<line x1="249.60" y1="301.66" x2="252.20" y2="301.66" stroke="#333333" stroke-width="0.9"/>
<text x="246.20" y="304.01" font-size="6.6" fill="#303030" text-anchor="end">80</text>
<line x1="251.90" y1="360.50" x2="396.50" y2="360.50" stroke="#333333" stroke-width="1.2"/>
<text x="232.60" y="330.20" font-size="7.9" fill="#303030" text-anchor="middle" stroke="#303030" stroke-width="0.35" textLength="36.8" lengthAdjust="spacingAndGlyphs" transform="rotate(-90 232.60 330.20)">%Proliferating</text>
<line x1="262.10" y1="360.50" x2="262.10" y2="362.70" stroke="#333333" stroke-width="0.8"/>
<text x="265.10" y="368.20" font-size="7.0" fill="#303030" text-anchor="end" textLength="26.72" lengthAdjust="spacingAndGlyphs" transform="rotate(-45 265.10 368.20)">All T cells</text>
<line x1="282.30" y1="360.50" x2="282.30" y2="362.70" stroke="#333333" stroke-width="0.8"/>
<text x="285.30" y="368.20" font-size="7.0" fill="#303030" text-anchor="end" textLength="35.68" lengthAdjust="spacingAndGlyphs" transform="rotate(-45 285.30 368.20)">CD4<tspan font-size="70%" baseline-shift="super">+</tspan> T cells</text>
<line x1="302.20" y1="360.50" x2="302.20" y2="362.70" stroke="#333333" stroke-width="0.8"/>
<text x="305.20" y="368.20" font-size="7.0" fill="#303030" text-anchor="end" textLength="35.68" lengthAdjust="spacingAndGlyphs" transform="rotate(-45 305.20 368.20)">CD8<tspan font-size="70%" baseline-shift="super">+</tspan> T cells</text>
<line x1="345.50" y1="360.50" x2="345.50" y2="362.70" stroke="#333333" stroke-width="0.8"/>
<text x="348.50" y="368.20" font-size="7.0" fill="#303030" text-anchor="end" textLength="26.72" lengthAdjust="spacingAndGlyphs" transform="rotate(-45 348.50 368.20)">All T cells</text>
<line x1="365.40" y1="360.50" x2="365.40" y2="362.70" stroke="#333333" stroke-width="0.8"/>
<text x="368.40" y="368.20" font-size="7.0" fill="#303030" text-anchor="end" textLength="35.68" lengthAdjust="spacingAndGlyphs" transform="rotate(-45 368.40 368.20)">CD4<tspan font-size="70%" baseline-shift="super">+</tspan> T cells</text>
<line x1="385.60" y1="360.50" x2="385.60" y2="362.70" stroke="#333333" stroke-width="0.8"/>
<text x="388.60" y="368.20" font-size="7.0" fill="#303030" text-anchor="end" textLength="35.68" lengthAdjust="spacingAndGlyphs" transform="rotate(-45 388.60 368.20)">CD8<tspan font-size="70%" baseline-shift="super">+</tspan> T cells</text>
<line x1="254.70" y1="336.96" x2="254.70" y2="342.85" stroke="#555" stroke-width="0.6"/>
<line x1="253.10" y1="340.15" x2="256.30" y2="340.15" stroke="#555" stroke-width="0.6"/>
<circle cx="254.70" cy="342.85" r="1.25" fill="#e0c090" stroke="#80582a" stroke-width="0.75"/>
<circle cx="254.70" cy="340.64" r="1.25" fill="#e0c090" stroke="#80582a" stroke-width="0.75"/>
<circle cx="254.70" cy="336.96" r="1.25" fill="#e0c090" stroke="#80582a" stroke-width="0.75"/>
<line x1="259.40" y1="331.82" x2="259.40" y2="345.79" stroke="#555" stroke-width="0.6"/>
<line x1="257.80" y1="339.66" x2="261.00" y2="339.66" stroke="#555" stroke-width="0.6"/>
<circle cx="259.40" cy="345.79" r="1.25" fill="#a04050" stroke="#4a0c18" stroke-width="0.75"/>
<circle cx="259.40" cy="341.38" r="1.25" fill="#a04050" stroke="#4a0c18" stroke-width="0.75"/>
<circle cx="259.40" cy="331.82" r="1.25" fill="#a04050" stroke="#4a0c18" stroke-width="0.75"/>
<line x1="263.90" y1="331.82" x2="263.90" y2="341.38" stroke="#555" stroke-width="0.6"/>
<line x1="262.30" y1="337.70" x2="265.50" y2="337.70" stroke="#555" stroke-width="0.6"/>
<circle cx="263.90" cy="341.38" r="1.25" fill="#80a882" stroke="#2c5a32" stroke-width="0.75"/>
<circle cx="263.90" cy="339.91" r="1.25" fill="#80a882" stroke="#2c5a32" stroke-width="0.75"/>
<circle cx="263.90" cy="331.82" r="1.25" fill="#80a882" stroke="#2c5a32" stroke-width="0.75"/>
<line x1="268.50" y1="335.49" x2="268.50" y2="340.20" stroke="#555" stroke-width="0.6"/>
<line x1="266.90" y1="338.29" x2="270.10" y2="338.29" stroke="#555" stroke-width="0.6"/>
<circle cx="268.50" cy="340.20" r="1.25" fill="#3a4a6a" stroke="#0c1426" stroke-width="0.75"/>
<circle cx="268.50" cy="339.17" r="1.25" fill="#3a4a6a" stroke="#0c1426" stroke-width="0.75"/>
<circle cx="268.50" cy="335.49" r="1.25" fill="#3a4a6a" stroke="#0c1426" stroke-width="0.75"/>
<line x1="275.60" y1="334.76" x2="275.60" y2="342.85" stroke="#555" stroke-width="0.6"/>
<line x1="274.00" y1="339.17" x2="277.20" y2="339.17" stroke="#555" stroke-width="0.6"/>
<circle cx="275.60" cy="342.85" r="1.25" fill="#e0c090" stroke="#80582a" stroke-width="0.75"/>
<circle cx="275.60" cy="339.91" r="1.25" fill="#e0c090" stroke="#80582a" stroke-width="0.75"/>
<circle cx="275.60" cy="334.76" r="1.25" fill="#e0c090" stroke="#80582a" stroke-width="0.75"/>
<line x1="280.30" y1="331.08" x2="280.30" y2="348.36" stroke="#555" stroke-width="0.6"/>
<line x1="278.70" y1="340.76" x2="281.90" y2="340.76" stroke="#555" stroke-width="0.6"/>
<circle cx="280.30" cy="348.36" r="1.25" fill="#a04050" stroke="#4a0c18" stroke-width="0.75"/>
<circle cx="280.30" cy="342.85" r="1.25" fill="#a04050" stroke="#4a0c18" stroke-width="0.75"/>
<circle cx="280.30" cy="331.08" r="1.25" fill="#a04050" stroke="#4a0c18" stroke-width="0.75"/>
<line x1="284.60" y1="330.34" x2="284.60" y2="343.58" stroke="#555" stroke-width="0.6"/>
<line x1="283.00" y1="338.19" x2="286.20" y2="338.19" stroke="#555" stroke-width="0.6"/>
<circle cx="284.60" cy="343.58" r="1.25" fill="#80a882" stroke="#2c5a32" stroke-width="0.75"/>
<circle cx="284.60" cy="340.64" r="1.25" fill="#80a882" stroke="#2c5a32" stroke-width="0.75"/>
<circle cx="284.60" cy="330.34" r="1.25" fill="#80a882" stroke="#2c5a32" stroke-width="0.75"/>
<line x1="289.00" y1="334.02" x2="289.00" y2="341.38" stroke="#555" stroke-width="0.6"/>
<line x1="287.40" y1="338.44" x2="290.60" y2="338.44" stroke="#555" stroke-width="0.6"/>
<circle cx="289.00" cy="341.38" r="1.25" fill="#3a4a6a" stroke="#0c1426" stroke-width="0.75"/>
<circle cx="289.00" cy="339.91" r="1.25" fill="#3a4a6a" stroke="#0c1426" stroke-width="0.75"/>
<circle cx="289.00" cy="334.02" r="1.25" fill="#3a4a6a" stroke="#0c1426" stroke-width="0.75"/>
<line x1="296.50" y1="339.17" x2="296.50" y2="348.00" stroke="#555" stroke-width="0.6"/>
<line x1="294.90" y1="343.58" x2="298.10" y2="343.58" stroke="#555" stroke-width="0.6"/>
<circle cx="296.50" cy="348.00" r="1.25" fill="#e0c090" stroke="#80582a" stroke-width="0.75"/>
<circle cx="296.50" cy="343.58" r="1.25" fill="#e0c090" stroke="#80582a" stroke-width="0.75"/>
<circle cx="296.50" cy="339.17" r="1.25" fill="#e0c090" stroke="#80582a" stroke-width="0.75"/>
<line x1="301.60" y1="339.91" x2="301.60" y2="346.16" stroke="#555" stroke-width="0.6"/>
<line x1="300.00" y1="342.97" x2="303.20" y2="342.97" stroke="#555" stroke-width="0.6"/>
<circle cx="301.60" cy="346.16" r="1.25" fill="#a04050" stroke="#4a0c18" stroke-width="0.75"/>
<circle cx="301.60" cy="342.85" r="1.25" fill="#a04050" stroke="#4a0c18" stroke-width="0.75"/>
<circle cx="301.60" cy="339.91" r="1.25" fill="#a04050" stroke="#4a0c18" stroke-width="0.75"/>
<line x1="305.90" y1="342.11" x2="305.90" y2="348.00" stroke="#555" stroke-width="0.6"/>
<line x1="304.30" y1="345.05" x2="307.50" y2="345.05" stroke="#555" stroke-width="0.6"/>
<circle cx="305.90" cy="348.00" r="1.25" fill="#80a882" stroke="#2c5a32" stroke-width="0.75"/>
<circle cx="305.90" cy="345.05" r="1.25" fill="#80a882" stroke="#2c5a32" stroke-width="0.75"/>
<circle cx="305.90" cy="342.11" r="1.25" fill="#80a882" stroke="#2c5a32" stroke-width="0.75"/>
<line x1="310.20" y1="338.44" x2="310.20" y2="347.26" stroke="#555" stroke-width="0.6"/>
<line x1="308.60" y1="343.34" x2="311.80" y2="343.34" stroke="#555" stroke-width="0.6"/>
<circle cx="310.20" cy="347.26" r="1.25" fill="#3a4a6a" stroke="#0c1426" stroke-width="0.75"/>
<circle cx="310.20" cy="344.32" r="1.25" fill="#3a4a6a" stroke="#0c1426" stroke-width="0.75"/>
<circle cx="310.20" cy="338.44" r="1.25" fill="#3a4a6a" stroke="#0c1426" stroke-width="0.75"/>
<line x1="338.00" y1="315.63" x2="338.00" y2="317.11" stroke="#555" stroke-width="0.6"/>
<line x1="336.40" y1="316.37" x2="339.60" y2="316.37" stroke="#555" stroke-width="0.6"/>
<circle cx="338.00" cy="317.11" r="1.25" fill="#e0c090" stroke="#80582a" stroke-width="0.75"/>
<circle cx="338.00" cy="316.37" r="1.25" fill="#e0c090" stroke="#80582a" stroke-width="0.75"/>
<circle cx="338.00" cy="315.63" r="1.25" fill="#e0c090" stroke="#80582a" stroke-width="0.75"/>
<line x1="342.40" y1="312.69" x2="342.40" y2="318.58" stroke="#555" stroke-width="0.6"/>
<line x1="340.80" y1="315.88" x2="344.00" y2="315.88" stroke="#555" stroke-width="0.6"/>
<circle cx="342.40" cy="318.58" r="1.25" fill="#a04050" stroke="#4a0c18" stroke-width="0.75"/>
<circle cx="342.40" cy="316.37" r="1.25" fill="#a04050" stroke="#4a0c18" stroke-width="0.75"/>
<circle cx="342.40" cy="312.69" r="1.25" fill="#a04050" stroke="#4a0c18" stroke-width="0.75"/>
<line x1="347.20" y1="307.54" x2="347.20" y2="317.47" stroke="#555" stroke-width="0.6"/>
<line x1="345.60" y1="312.82" x2="348.80" y2="312.82" stroke="#555" stroke-width="0.6"/>
<circle cx="347.20" cy="317.47" r="1.25" fill="#80a882" stroke="#2c5a32" stroke-width="0.75"/>
<circle cx="347.20" cy="313.43" r="1.25" fill="#80a882" stroke="#2c5a32" stroke-width="0.75"/>
<circle cx="347.20" cy="307.54" r="1.25" fill="#80a882" stroke="#2c5a32" stroke-width="0.75"/>
<line x1="351.50" y1="315.63" x2="351.50" y2="320.78" stroke="#555" stroke-width="0.6"/>
<line x1="349.90" y1="318.09" x2="353.10" y2="318.09" stroke="#555" stroke-width="0.6"/>
<circle cx="351.50" cy="320.78" r="1.25" fill="#3a4a6a" stroke="#0c1426" stroke-width="0.75"/>
<circle cx="351.50" cy="317.84" r="1.25" fill="#3a4a6a" stroke="#0c1426" stroke-width="0.75"/>
<circle cx="351.50" cy="315.63" r="1.25" fill="#3a4a6a" stroke="#0c1426" stroke-width="0.75"/>
<line x1="359.00" y1="313.43" x2="359.00" y2="314.90" stroke="#555" stroke-width="0.6"/>
<line x1="357.40" y1="314.16" x2="360.60" y2="314.16" stroke="#555" stroke-width="0.6"/>
<circle cx="359.00" cy="314.90" r="1.25" fill="#e0c090" stroke="#80582a" stroke-width="0.75"/>
<circle cx="359.00" cy="314.16" r="1.25" fill="#e0c090" stroke="#80582a" stroke-width="0.75"/>
<circle cx="359.00" cy="313.43" r="1.25" fill="#e0c090" stroke="#80582a" stroke-width="0.75"/>
<line x1="363.60" y1="311.96" x2="363.60" y2="316.37" stroke="#555" stroke-width="0.6"/>
<line x1="362.00" y1="314.16" x2="365.20" y2="314.16" stroke="#555" stroke-width="0.6"/>
<circle cx="363.60" cy="316.37" r="1.25" fill="#a04050" stroke="#4a0c18" stroke-width="0.75"/>
<circle cx="363.60" cy="314.16" r="1.25" fill="#a04050" stroke="#4a0c18" stroke-width="0.75"/>
<circle cx="363.60" cy="311.96" r="1.25" fill="#a04050" stroke="#4a0c18" stroke-width="0.75"/>
<line x1="368.50" y1="305.71" x2="368.50" y2="317.47" stroke="#555" stroke-width="0.6"/>
<line x1="366.90" y1="311.47" x2="370.10" y2="311.47" stroke="#555" stroke-width="0.6"/>
<circle cx="368.50" cy="317.47" r="1.25" fill="#80a882" stroke="#2c5a32" stroke-width="0.75"/>
<circle cx="368.50" cy="311.22" r="1.25" fill="#80a882" stroke="#2c5a32" stroke-width="0.75"/>
<circle cx="368.50" cy="305.71" r="1.25" fill="#80a882" stroke="#2c5a32" stroke-width="0.75"/>
<line x1="372.60" y1="313.43" x2="372.60" y2="318.58" stroke="#555" stroke-width="0.6"/>
<line x1="371.00" y1="315.63" x2="374.20" y2="315.63" stroke="#555" stroke-width="0.6"/>
<circle cx="372.60" cy="318.58" r="1.25" fill="#3a4a6a" stroke="#0c1426" stroke-width="0.75"/>
<circle cx="372.60" cy="314.90" r="1.25" fill="#3a4a6a" stroke="#0c1426" stroke-width="0.75"/>
<circle cx="372.60" cy="313.43" r="1.25" fill="#3a4a6a" stroke="#0c1426" stroke-width="0.75"/>
<line x1="380.00" y1="328.87" x2="380.00" y2="338.44" stroke="#555" stroke-width="0.6"/>
<line x1="378.40" y1="333.53" x2="381.60" y2="333.53" stroke="#555" stroke-width="0.6"/>
<circle cx="380.00" cy="338.44" r="1.25" fill="#e0c090" stroke="#80582a" stroke-width="0.75"/>
<circle cx="380.00" cy="333.29" r="1.25" fill="#e0c090" stroke="#80582a" stroke-width="0.75"/>
<circle cx="380.00" cy="328.87" r="1.25" fill="#e0c090" stroke="#80582a" stroke-width="0.75"/>
<line x1="384.70" y1="327.03" x2="384.70" y2="340.27" stroke="#555" stroke-width="0.6"/>
<line x1="383.10" y1="333.53" x2="386.30" y2="333.53" stroke="#555" stroke-width="0.6"/>
<circle cx="384.70" cy="340.27" r="1.25" fill="#a04050" stroke="#4a0c18" stroke-width="0.75"/>
<circle cx="384.70" cy="333.29" r="1.25" fill="#a04050" stroke="#4a0c18" stroke-width="0.75"/>
<circle cx="384.70" cy="327.03" r="1.25" fill="#a04050" stroke="#4a0c18" stroke-width="0.75"/>
<line x1="389.20" y1="329.61" x2="389.20" y2="335.71" stroke="#555" stroke-width="0.6"/>
<line x1="387.60" y1="332.87" x2="390.80" y2="332.87" stroke="#555" stroke-width="0.6"/>
<circle cx="389.20" cy="335.71" r="1.25" fill="#80a882" stroke="#2c5a32" stroke-width="0.75"/>
<circle cx="389.20" cy="333.29" r="1.25" fill="#80a882" stroke="#2c5a32" stroke-width="0.75"/>
<circle cx="389.20" cy="329.61" r="1.25" fill="#80a882" stroke="#2c5a32" stroke-width="0.75"/>
<line x1="393.60" y1="332.18" x2="393.60" y2="339.17" stroke="#555" stroke-width="0.6"/>
<line x1="392.00" y1="335.37" x2="395.20" y2="335.37" stroke="#555" stroke-width="0.6"/>
<circle cx="393.60" cy="339.17" r="1.25" fill="#3a4a6a" stroke="#0c1426" stroke-width="0.75"/>
<circle cx="393.60" cy="334.76" r="1.25" fill="#3a4a6a" stroke="#0c1426" stroke-width="0.75"/>
<circle cx="393.60" cy="332.18" r="1.25" fill="#3a4a6a" stroke="#0c1426" stroke-width="0.75"/>
<polyline points="244.00,395.4 244.00,397.9 314.40,397.9 314.40,395.4" fill="none" stroke="#333333" stroke-width="0.9"/>
<text x="279.40" y="408.60" font-size="8.2" fill="#303030" text-anchor="middle" textLength="35" lengthAdjust="spacingAndGlyphs" stroke="#2b2b2b" stroke-width="0.28">Lymph Nodes</text>
<polyline points="327.30,395.4 327.30,397.9 398.50,397.9 398.50,395.4" fill="none" stroke="#333333" stroke-width="0.9"/>
<text x="363.00" y="408.60" font-size="8.2" fill="#303030" text-anchor="middle" textLength="17.7" lengthAdjust="spacingAndGlyphs" stroke="#2b2b2b" stroke-width="0.28">Spleen</text>
<circle cx="408.80" cy="313.50" r="1.3" fill="#8a7a62" stroke="#4a3a28" stroke-width="0.5"/>
<text x="412.70" y="315.70" font-size="6.3" fill="#3c3c3c">Uninjected control</text>
<circle cx="408.80" cy="321.57" r="1.3" fill="#4e1a24" stroke="#2a0a10" stroke-width="0.5"/>
<text x="412.70" y="323.77" font-size="6.3" fill="#3c3c3c">Anti-CD3 mAb</text>
<circle cx="408.80" cy="329.64" r="1.3" fill="#4e644e" stroke="#243224" stroke-width="0.5"/>
<text x="412.70" y="331.84" font-size="6.3" fill="#3c3c3c">Anti-CD4 mAb</text>
<circle cx="408.80" cy="337.71" r="1.3" fill="#1c2028" stroke="#0a0c12" stroke-width="0.5"/>
<text x="412.70" y="339.91" font-size="6.3" fill="#3c3c3c">Anti-CD8 mAb</text>
<text x="8.80" y="430.90" font-size="11" fill="#111" font-weight="bold">E</text>
<line x1="37.70" y1="449.20" x2="37.70" y2="514.40" stroke="#333333" stroke-width="1.4"/>
<line x1="35.10" y1="513.80" x2="37.70" y2="513.80" stroke="#333333" stroke-width="0.9"/>
<text x="31.70" y="516.15" font-size="6.6" fill="#303030" text-anchor="end">0</text>
<line x1="35.10" y1="501.44" x2="37.70" y2="501.44" stroke="#333333" stroke-width="0.9"/>
<text x="31.70" y="503.79" font-size="6.6" fill="#303030" text-anchor="end">10</text>
<line x1="35.10" y1="489.08" x2="37.70" y2="489.08" stroke="#333333" stroke-width="0.9"/>
<text x="31.70" y="491.43" font-size="6.6" fill="#303030" text-anchor="end">20</text>
<line x1="35.10" y1="476.72" x2="37.70" y2="476.72" stroke="#333333" stroke-width="0.9"/>
<text x="31.70" y="479.07" font-size="6.6" fill="#303030" text-anchor="end">30</text>
<line x1="35.10" y1="464.36" x2="37.70" y2="464.36" stroke="#333333" stroke-width="0.9"/>
<text x="31.70" y="466.71" font-size="6.6" fill="#303030" text-anchor="end">40</text>
<line x1="35.10" y1="452.00" x2="37.70" y2="452.00" stroke="#333333" stroke-width="0.9"/>
<text x="31.70" y="454.35" font-size="6.6" fill="#303030" text-anchor="end">50</text>
<line x1="37.20" y1="513.80" x2="99.40" y2="513.80" stroke="#333333" stroke-width="1.2"/>
<text x="34.2" y="443.8" font-size="8.4" fill="#303030" textLength="69.8" lengthAdjust="spacingAndGlyphs">All Maternal T cells</text>
<text x="18.30" y="481.60" font-size="8.4" fill="#303030" text-anchor="middle" stroke="#303030" stroke-width="0.35" textLength="39.5" lengthAdjust="spacingAndGlyphs" transform="rotate(-90 18.30 481.60)">%CD3<tspan font-size="70%" baseline-shift="super">+</tspan>/CD45<tspan font-size="70%" baseline-shift="super">+</tspan></text>
<line x1="50.90" y1="513.80" x2="50.90" y2="516.00" stroke="#333333" stroke-width="0.8"/>
<text x="53.90" y="521.30" font-size="7.0" fill="#303030" text-anchor="end" textLength="33.85" lengthAdjust="spacingAndGlyphs" transform="rotate(-45 53.90 521.30)">Pre-injection</text>
<text x="50.90" y="459.40" font-size="6.6" fill="#555" text-anchor="middle">ns</text>
<line x1="69.20" y1="513.80" x2="69.20" y2="516.00" stroke="#333333" stroke-width="0.8"/>
<text x="72.20" y="521.30" font-size="7.0" fill="#303030" text-anchor="end" textLength="61.27" lengthAdjust="spacingAndGlyphs" transform="rotate(-45 72.20 521.30)">24 hours post-injection</text>
<text x="69.20" y="459.40" font-size="6.6" fill="#555" text-anchor="middle">ns</text>
<line x1="87.50" y1="513.80" x2="87.50" y2="516.00" stroke="#333333" stroke-width="0.8"/>
<text x="90.50" y="521.30" font-size="7.0" fill="#303030" text-anchor="end" textLength="61.27" lengthAdjust="spacingAndGlyphs" transform="rotate(-45 90.50 521.30)">96 hours post-injection</text>
<text x="87.50" y="459.40" font-size="6.6" fill="#555" text-anchor="middle">ns</text>
<line x1="50.90" y1="461.89" x2="50.90" y2="479.19" stroke="#4c4c4c" stroke-width="0.7"/>
<line x1="49.80" y1="461.89" x2="52.00" y2="461.89" stroke="#4c4c4c" stroke-width="0.7"/>
<line x1="49.80" y1="479.19" x2="52.00" y2="479.19" stroke="#4c4c4c" stroke-width="0.7"/>
<line x1="69.20" y1="468.69" x2="69.20" y2="492.17" stroke="#4c4c4c" stroke-width="0.7"/>
<line x1="68.10" y1="468.69" x2="70.30" y2="468.69" stroke="#4c4c4c" stroke-width="0.7"/>
<line x1="68.10" y1="492.17" x2="70.30" y2="492.17" stroke="#4c4c4c" stroke-width="0.7"/>
<line x1="87.50" y1="470.54" x2="87.50" y2="489.08" stroke="#4c4c4c" stroke-width="0.7"/>
<line x1="86.40" y1="470.54" x2="88.60" y2="470.54" stroke="#4c4c4c" stroke-width="0.7"/>
<line x1="86.40" y1="489.08" x2="88.60" y2="489.08" stroke="#4c4c4c" stroke-width="0.7"/>
<polyline points="50.90,471.16 69.20,479.81 87.50,480.43" fill="none" stroke="#4c4c4c" stroke-width="1.0" stroke-linejoin="round"/>
<circle cx="50.90" cy="471.16" r="1.35" fill="#ffffff" stroke="#4c4c4c" stroke-width="0.7"/>
<circle cx="69.20" cy="479.81" r="1.35" fill="#ffffff" stroke="#4c4c4c" stroke-width="0.7"/>
<circle cx="87.50" cy="480.43" r="1.35" fill="#ffffff" stroke="#4c4c4c" stroke-width="0.7"/>
<line x1="50.90" y1="464.36" x2="50.90" y2="477.96" stroke="#5c1826" stroke-width="0.7"/>
<line x1="49.80" y1="464.36" x2="52.00" y2="464.36" stroke="#5c1826" stroke-width="0.7"/>
<line x1="49.80" y1="477.96" x2="52.00" y2="477.96" stroke="#5c1826" stroke-width="0.7"/>
<line x1="69.20" y1="476.72" x2="69.20" y2="490.32" stroke="#5c1826" stroke-width="0.7"/>
<line x1="68.10" y1="476.72" x2="70.30" y2="476.72" stroke="#5c1826" stroke-width="0.7"/>
<line x1="68.10" y1="490.32" x2="70.30" y2="490.32" stroke="#5c1826" stroke-width="0.7"/>
<line x1="87.50" y1="477.96" x2="87.50" y2="487.84" stroke="#5c1826" stroke-width="0.7"/>
<line x1="86.40" y1="477.96" x2="88.60" y2="477.96" stroke="#5c1826" stroke-width="0.7"/>
<line x1="86.40" y1="487.84" x2="88.60" y2="487.84" stroke="#5c1826" stroke-width="0.7"/>
<polyline points="50.90,471.78 69.20,483.52 87.50,483.52" fill="none" stroke="#5c1826" stroke-width="1.0" stroke-linejoin="round"/>
<circle cx="50.90" cy="471.78" r="1.45" fill="#5c1826"/>
<circle cx="69.20" cy="483.52" r="1.45" fill="#5c1826"/>
<circle cx="87.50" cy="483.52" r="1.45" fill="#5c1826"/>
<line x1="141.70" y1="449.20" x2="141.70" y2="514.40" stroke="#333333" stroke-width="1.4"/>
<line x1="139.10" y1="513.80" x2="141.70" y2="513.80" stroke="#333333" stroke-width="0.9"/>
<text x="135.70" y="516.15" font-size="6.6" fill="#303030" text-anchor="end">0</text>
<line x1="139.10" y1="498.40" x2="141.70" y2="498.40" stroke="#333333" stroke-width="0.9"/>
<text x="135.70" y="500.75" font-size="6.6" fill="#303030" text-anchor="end">10</text>
<line x1="139.10" y1="483.00" x2="141.70" y2="483.00" stroke="#333333" stroke-width="0.9"/>
<text x="135.70" y="485.35" font-size="6.6" fill="#303030" text-anchor="end">20</text>
<line x1="139.10" y1="467.60" x2="141.70" y2="467.60" stroke="#333333" stroke-width="0.9"/>
<text x="135.70" y="469.95" font-size="6.6" fill="#303030" text-anchor="end">30</text>
<line x1="139.10" y1="452.20" x2="141.70" y2="452.20" stroke="#333333" stroke-width="0.9"/>
<text x="135.70" y="454.55" font-size="6.6" fill="#303030" text-anchor="end">40</text>
<line x1="141.20" y1="513.80" x2="204.50" y2="513.80" stroke="#333333" stroke-width="1.2"/>
<text x="132.7" y="443.8" font-size="8.4" fill="#303030" textLength="83.2" lengthAdjust="spacingAndGlyphs">Maternal CD4<tspan font-size="70%" baseline-shift="super">+</tspan> T cells</text>
<text x="123.00" y="481.60" font-size="8.4" fill="#303030" text-anchor="middle" stroke="#303030" stroke-width="0.35" textLength="66.5" lengthAdjust="spacingAndGlyphs" transform="rotate(-90 123.00 481.60)">%CD3<tspan font-size="70%" baseline-shift="super">+</tspan>CD4<tspan font-size="70%" baseline-shift="super">+</tspan>CD8<tspan font-size="70%" baseline-shift="super">&#8211;</tspan>/CD45<tspan font-size="70%" baseline-shift="super">+</tspan></text>
<line x1="155.20" y1="513.80" x2="155.20" y2="516.00" stroke="#333333" stroke-width="0.8"/>
<text x="158.20" y="521.30" font-size="7.0" fill="#303030" text-anchor="end" textLength="33.85" lengthAdjust="spacingAndGlyphs" transform="rotate(-45 158.20 521.30)">Pre-injection</text>
<text x="155.20" y="459.40" font-size="6.6" fill="#555" text-anchor="middle">ns</text>
<line x1="173.50" y1="513.80" x2="173.50" y2="516.00" stroke="#333333" stroke-width="0.8"/>
<text x="176.50" y="521.30" font-size="7.0" fill="#303030" text-anchor="end" textLength="61.27" lengthAdjust="spacingAndGlyphs" transform="rotate(-45 176.50 521.30)">24 hours post-injection</text>
<text x="173.50" y="459.40" font-size="6.6" fill="#555" text-anchor="middle">ns</text>
<line x1="191.70" y1="513.80" x2="191.70" y2="516.00" stroke="#333333" stroke-width="0.8"/>
<text x="194.70" y="521.30" font-size="7.0" fill="#303030" text-anchor="end" textLength="61.27" lengthAdjust="spacingAndGlyphs" transform="rotate(-45 194.70 521.30)">96 hours post-injection</text>
<text x="191.70" y="459.40" font-size="6.6" fill="#555" text-anchor="middle">ns</text>
<line x1="155.20" y1="464.52" x2="155.20" y2="479.92" stroke="#4c4c4c" stroke-width="0.7"/>
<line x1="154.10" y1="464.52" x2="156.30" y2="464.52" stroke="#4c4c4c" stroke-width="0.7"/>
<line x1="154.10" y1="479.92" x2="156.30" y2="479.92" stroke="#4c4c4c" stroke-width="0.7"/>
<line x1="173.50" y1="470.68" x2="173.50" y2="492.24" stroke="#4c4c4c" stroke-width="0.7"/>
<line x1="172.40" y1="470.68" x2="174.60" y2="470.68" stroke="#4c4c4c" stroke-width="0.7"/>
<line x1="172.40" y1="492.24" x2="174.60" y2="492.24" stroke="#4c4c4c" stroke-width="0.7"/>
<line x1="191.70" y1="472.22" x2="191.70" y2="490.70" stroke="#4c4c4c" stroke-width="0.7"/>
<line x1="190.60" y1="472.22" x2="192.80" y2="472.22" stroke="#4c4c4c" stroke-width="0.7"/>
<line x1="190.60" y1="490.70" x2="192.80" y2="490.70" stroke="#4c4c4c" stroke-width="0.7"/>
<polyline points="155.20,472.22 173.50,481.46 191.70,481.46" fill="none" stroke="#4c4c4c" stroke-width="1.0" stroke-linejoin="round"/>
<circle cx="155.20" cy="472.22" r="1.35" fill="#ffffff" stroke="#4c4c4c" stroke-width="0.7"/>
<circle cx="173.50" cy="481.46" r="1.35" fill="#ffffff" stroke="#4c4c4c" stroke-width="0.7"/>
<circle cx="191.70" cy="481.46" r="1.35" fill="#ffffff" stroke="#4c4c4c" stroke-width="0.7"/>
<line x1="155.20" y1="466.06" x2="155.20" y2="479.92" stroke="#5c1826" stroke-width="0.7"/>
<line x1="154.10" y1="466.06" x2="156.30" y2="466.06" stroke="#5c1826" stroke-width="0.7"/>
<line x1="154.10" y1="479.92" x2="156.30" y2="479.92" stroke="#5c1826" stroke-width="0.7"/>
<line x1="173.50" y1="475.30" x2="173.50" y2="493.78" stroke="#5c1826" stroke-width="0.7"/>
<line x1="172.40" y1="475.30" x2="174.60" y2="475.30" stroke="#5c1826" stroke-width="0.7"/>
<line x1="172.40" y1="493.78" x2="174.60" y2="493.78" stroke="#5c1826" stroke-width="0.7"/>
<line x1="191.70" y1="478.38" x2="191.70" y2="490.70" stroke="#5c1826" stroke-width="0.7"/>
<line x1="190.60" y1="478.38" x2="192.80" y2="478.38" stroke="#5c1826" stroke-width="0.7"/>
<line x1="190.60" y1="490.70" x2="192.80" y2="490.70" stroke="#5c1826" stroke-width="0.7"/>
<polyline points="155.20,473.76 173.50,484.54 191.70,485.31" fill="none" stroke="#5c1826" stroke-width="1.0" stroke-linejoin="round"/>
<circle cx="155.20" cy="473.76" r="1.45" fill="#5c1826"/>
<circle cx="173.50" cy="484.54" r="1.45" fill="#5c1826"/>
<circle cx="191.70" cy="485.31" r="1.45" fill="#5c1826"/>
<line x1="254.00" y1="449.20" x2="254.00" y2="514.40" stroke="#333333" stroke-width="1.4"/>
<line x1="251.40" y1="513.80" x2="254.00" y2="513.80" stroke="#333333" stroke-width="0.9"/>
<text x="248.00" y="516.15" font-size="6.6" fill="#303030" text-anchor="end">0</text>
<line x1="251.40" y1="493.30" x2="254.00" y2="493.30" stroke="#333333" stroke-width="0.9"/>
<text x="248.00" y="495.65" font-size="6.6" fill="#303030" text-anchor="end">5</text>
<line x1="251.40" y1="472.80" x2="254.00" y2="472.80" stroke="#333333" stroke-width="0.9"/>
<text x="248.00" y="475.15" font-size="6.6" fill="#303030" text-anchor="end">10</text>
<line x1="251.40" y1="452.30" x2="254.00" y2="452.30" stroke="#333333" stroke-width="0.9"/>
<text x="248.00" y="454.65" font-size="6.6" fill="#303030" text-anchor="end">15</text>
<line x1="253.50" y1="513.80" x2="315.60" y2="513.80" stroke="#333333" stroke-width="1.2"/>
<text x="243.8" y="443.8" font-size="8.4" fill="#303030" textLength="82.4" lengthAdjust="spacingAndGlyphs">Maternal CD8<tspan font-size="70%" baseline-shift="super">+</tspan> T cells</text>
<text x="234.60" y="481.60" font-size="8.4" fill="#303030" text-anchor="middle" stroke="#303030" stroke-width="0.35" textLength="67.4" lengthAdjust="spacingAndGlyphs" transform="rotate(-90 234.60 481.60)">%CD3<tspan font-size="70%" baseline-shift="super">+</tspan>CD4<tspan font-size="70%" baseline-shift="super">&#8211;</tspan>CD8<tspan font-size="70%" baseline-shift="super">+</tspan>/CD45<tspan font-size="70%" baseline-shift="super">+</tspan></text>
<line x1="266.50" y1="513.80" x2="266.50" y2="516.00" stroke="#333333" stroke-width="0.8"/>
<text x="269.50" y="521.30" font-size="7.0" fill="#303030" text-anchor="end" textLength="33.85" lengthAdjust="spacingAndGlyphs" transform="rotate(-45 269.50 521.30)">Pre-injection</text>
<text x="266.50" y="459.40" font-size="6.6" fill="#555" text-anchor="middle">ns</text>
<line x1="284.80" y1="513.80" x2="284.80" y2="516.00" stroke="#333333" stroke-width="0.8"/>
<text x="287.80" y="521.30" font-size="7.0" fill="#303030" text-anchor="end" textLength="61.27" lengthAdjust="spacingAndGlyphs" transform="rotate(-45 287.80 521.30)">24 hours post-injection</text>
<text x="284.80" y="459.40" font-size="6.6" fill="#555" text-anchor="middle">ns</text>
<line x1="303.10" y1="513.80" x2="303.10" y2="516.00" stroke="#333333" stroke-width="0.8"/>
<text x="306.10" y="521.30" font-size="7.0" fill="#303030" text-anchor="end" textLength="61.27" lengthAdjust="spacingAndGlyphs" transform="rotate(-45 306.10 521.30)">96 hours post-injection</text>
<text x="303.10" y="459.40" font-size="6.6" fill="#555" text-anchor="middle">ns</text>
<line x1="266.50" y1="470.34" x2="266.50" y2="485.92" stroke="#4c4c4c" stroke-width="0.7"/>
<line x1="265.40" y1="470.34" x2="267.60" y2="470.34" stroke="#4c4c4c" stroke-width="0.7"/>
<line x1="265.40" y1="485.92" x2="267.60" y2="485.92" stroke="#4c4c4c" stroke-width="0.7"/>
<line x1="284.80" y1="478.95" x2="284.80" y2="496.17" stroke="#4c4c4c" stroke-width="0.7"/>
<line x1="283.70" y1="478.95" x2="285.90" y2="478.95" stroke="#4c4c4c" stroke-width="0.7"/>
<line x1="283.70" y1="496.17" x2="285.90" y2="496.17" stroke="#4c4c4c" stroke-width="0.7"/>
<line x1="303.10" y1="481.00" x2="303.10" y2="495.35" stroke="#4c4c4c" stroke-width="0.7"/>
<line x1="302.00" y1="481.00" x2="304.20" y2="481.00" stroke="#4c4c4c" stroke-width="0.7"/>
<line x1="302.00" y1="495.35" x2="304.20" y2="495.35" stroke="#4c4c4c" stroke-width="0.7"/>
<polyline points="266.50,478.13 284.80,487.97 303.10,488.38" fill="none" stroke="#4c4c4c" stroke-width="1.0" stroke-linejoin="round"/>
<circle cx="266.50" cy="478.13" r="1.35" fill="#ffffff" stroke="#4c4c4c" stroke-width="0.7"/>
<circle cx="284.80" cy="487.97" r="1.35" fill="#ffffff" stroke="#4c4c4c" stroke-width="0.7"/>
<circle cx="303.10" cy="488.38" r="1.35" fill="#ffffff" stroke="#4c4c4c" stroke-width="0.7"/>
<line x1="266.50" y1="474.85" x2="266.50" y2="485.92" stroke="#5c1826" stroke-width="0.7"/>
<line x1="265.40" y1="474.85" x2="267.60" y2="474.85" stroke="#5c1826" stroke-width="0.7"/>
<line x1="265.40" y1="485.92" x2="267.60" y2="485.92" stroke="#5c1826" stroke-width="0.7"/>
<line x1="284.80" y1="483.05" x2="284.80" y2="497.40" stroke="#5c1826" stroke-width="0.7"/>
<line x1="283.70" y1="483.05" x2="285.90" y2="483.05" stroke="#5c1826" stroke-width="0.7"/>
<line x1="283.70" y1="497.40" x2="285.90" y2="497.40" stroke="#5c1826" stroke-width="0.7"/>
<line x1="303.10" y1="482.64" x2="303.10" y2="496.17" stroke="#5c1826" stroke-width="0.7"/>
<line x1="302.00" y1="482.64" x2="304.20" y2="482.64" stroke="#5c1826" stroke-width="0.7"/>
<line x1="302.00" y1="496.17" x2="304.20" y2="496.17" stroke="#5c1826" stroke-width="0.7"/>
<polyline points="266.50,481.00 284.80,490.02 303.10,488.79" fill="none" stroke="#5c1826" stroke-width="1.0" stroke-linejoin="round"/>
<circle cx="266.50" cy="481.00" r="1.45" fill="#5c1826"/>
<circle cx="284.80" cy="490.02" r="1.45" fill="#5c1826"/>
<circle cx="303.10" cy="488.79" r="1.45" fill="#5c1826"/>
<line x1="324.80" y1="474.20" x2="331.20" y2="474.20" stroke="#4c4c4c" stroke-width="0.8"/>
<circle cx="328.00" cy="474.20" r="1.2" fill="#fff" stroke="#4c4c4c" stroke-width="0.6"/>
<text x="334.40" y="476.40" font-size="6.35" fill="#3c3c3c">Saline-injected control (n = 4)</text>
<line x1="324.80" y1="483.30" x2="331.20" y2="483.30" stroke="#5c1826" stroke-width="0.8"/>
<circle cx="328.00" cy="483.30" r="1.3" fill="#5c1826"/>
<text x="334.40" y="485.50" font-size="6.35" fill="#3c3c3c">Anti-CD3 mAb (n = 4)</text>
<text x="8.60" y="588.10" font-size="11" fill="#111" font-weight="bold">F</text>
<line x1="38.20" y1="593.80" x2="38.20" y2="658.50" stroke="#333333" stroke-width="1.4"/>
<line x1="35.60" y1="657.90" x2="38.20" y2="657.90" stroke="#333333" stroke-width="0.9"/>
<text x="32.20" y="660.25" font-size="6.6" fill="#303030" text-anchor="end">0.0</text>
<line x1="35.60" y1="645.80" x2="38.20" y2="645.80" stroke="#333333" stroke-width="0.9"/>
<text x="32.20" y="648.15" font-size="6.6" fill="#303030" text-anchor="end">0.5</text>
<line x1="35.60" y1="633.70" x2="38.20" y2="633.70" stroke="#333333" stroke-width="0.9"/>
<text x="32.20" y="636.05" font-size="6.6" fill="#303030" text-anchor="end">1.0</text>
<line x1="35.60" y1="621.60" x2="38.20" y2="621.60" stroke="#333333" stroke-width="0.9"/>
<text x="32.20" y="623.95" font-size="6.6" fill="#303030" text-anchor="end">1.5</text>
<line x1="35.60" y1="609.50" x2="38.20" y2="609.50" stroke="#333333" stroke-width="0.9"/>
<text x="32.20" y="611.85" font-size="6.6" fill="#303030" text-anchor="end">2.0</text>
<line x1="35.60" y1="597.40" x2="38.20" y2="597.40" stroke="#333333" stroke-width="0.9"/>
<text x="32.20" y="599.75" font-size="6.6" fill="#303030" text-anchor="end">2.5</text>
<line x1="37.50" y1="657.90" x2="132.50" y2="657.90" stroke="#333333" stroke-width="1.2"/>
<rect x="42.70" y="619.18" width="7.40" height="38.72" fill="#a9bc82"/>
<line x1="46.40" y1="606.60" x2="46.40" y2="619.18" stroke="#5e6a4a" stroke-width="0.7"/>
<line x1="44.80" y1="606.60" x2="48.00" y2="606.60" stroke="#5e6a4a" stroke-width="0.7"/>
<rect x="55.00" y="651.61" width="7.30" height="6.29" fill="#c80a28"/>
<line x1="58.65" y1="648.46" x2="58.65" y2="651.61" stroke="#3a2020" stroke-width="0.7"/>
<line x1="57.05" y1="648.46" x2="60.25" y2="648.46" stroke="#3a2020" stroke-width="0.7"/>
<rect x="75.50" y="649.43" width="7.40" height="8.47" fill="#a9bc82"/>
<line x1="79.20" y1="644.83" x2="79.20" y2="649.43" stroke="#5e6a4a" stroke-width="0.7"/>
<line x1="77.60" y1="644.83" x2="80.80" y2="644.83" stroke="#5e6a4a" stroke-width="0.7"/>
<rect x="108.60" y="646.77" width="7.70" height="11.13" fill="#a9bc82"/>
<line x1="112.45" y1="641.69" x2="112.45" y2="646.77" stroke="#5e6a4a" stroke-width="0.7"/>
<line x1="110.85" y1="641.69" x2="114.05" y2="641.69" stroke="#5e6a4a" stroke-width="0.7"/>
<line x1="52.20" y1="657.90" x2="52.20" y2="660.10" stroke="#333333" stroke-width="0.8"/>
<line x1="85.40" y1="657.90" x2="85.40" y2="660.10" stroke="#333333" stroke-width="0.8"/>
<line x1="118.40" y1="657.90" x2="118.40" y2="660.10" stroke="#333333" stroke-width="0.8"/>
<line x1="45.90" y1="598.90" x2="58.50" y2="598.90" stroke="#555" stroke-width="0.85"/>
<text x="52.20" y="598.90" font-size="6.2" fill="#333" text-anchor="middle">****</text>
<line x1="79.00" y1="598.90" x2="91.70" y2="598.90" stroke="#555" stroke-width="0.85"/>
<text x="85.35" y="598.90" font-size="6.2" fill="#333" text-anchor="middle">****</text>
<line x1="112.00" y1="598.90" x2="125.10" y2="598.90" stroke="#555" stroke-width="0.85"/>
<text x="118.55" y="598.90" font-size="6.2" fill="#333" text-anchor="middle">****</text>
<text x="49.90" y="670.00" font-size="6.5" fill="#303030" text-anchor="middle">All</text>
<text x="80.9" y="670.0" font-size="6.5" fill="#303030" text-anchor="middle">CD4<tspan font-size="70%" baseline-shift="super">+</tspan></text>
<text x="115.9" y="670.0" font-size="6.5" fill="#303030" text-anchor="middle">CD8<tspan font-size="70%" baseline-shift="super">+</tspan></text>
<text x="53.40" y="678.10" font-size="6.5" fill="#303030" text-anchor="middle">T cells</text>
<text x="83.60" y="678.10" font-size="6.5" fill="#303030" text-anchor="middle">T cells</text>
<text x="118.60" y="678.10" font-size="6.5" fill="#303030" text-anchor="middle">T cells</text>
<text x="17.70" y="626.70" font-size="8.6" fill="#303030" text-anchor="middle" stroke="#303030" stroke-width="0.35" textLength="25.8" lengthAdjust="spacingAndGlyphs" transform="rotate(-90 17.70 626.70)">%/CD45<tspan font-size="70%" baseline-shift="super">+</tspan></text>
<rect x="37.70" y="686.10" width="6.80" height="3.80" fill="#a9bc82"/>
<text x="47.20" y="690.20" font-size="6.45" fill="#3c3c3c">Saline-injected control (n = 14)</text>
<rect x="37.70" y="696.80" width="6.80" height="3.80" fill="#c80a28"/>
<text x="47.20" y="700.90" font-size="6.45" fill="#3c3c3c">Anti-CD3 mAb (n = 17)</text>
<text x="143.20" y="588.20" font-size="11" fill="#111" font-weight="bold">G</text>
<line x1="173.60" y1="596.00" x2="173.60" y2="659.20" stroke="#333333" stroke-width="1.4"/>
<line x1="171.00" y1="658.60" x2="173.60" y2="658.60" stroke="#333333" stroke-width="0.9"/>
<text x="167.60" y="660.95" font-size="6.2" fill="#303030" text-anchor="end">0</text>
<line x1="171.00" y1="652.62" x2="173.60" y2="652.62" stroke="#333333" stroke-width="0.9"/>
<text x="167.60" y="654.97" font-size="6.2" fill="#303030" text-anchor="end">10</text>
<line x1="171.00" y1="646.64" x2="173.60" y2="646.64" stroke="#333333" stroke-width="0.9"/>
<text x="167.60" y="648.99" font-size="6.2" fill="#303030" text-anchor="end">20</text>
<line x1="171.00" y1="640.66" x2="173.60" y2="640.66" stroke="#333333" stroke-width="0.9"/>
<text x="167.60" y="643.01" font-size="6.2" fill="#303030" text-anchor="end">30</text>
<line x1="171.00" y1="634.68" x2="173.60" y2="634.68" stroke="#333333" stroke-width="0.9"/>
<text x="167.60" y="637.03" font-size="6.2" fill="#303030" text-anchor="end">40</text>
<line x1="171.00" y1="628.70" x2="173.60" y2="628.70" stroke="#333333" stroke-width="0.9"/>
<text x="167.60" y="631.05" font-size="6.2" fill="#303030" text-anchor="end">50</text>
<line x1="171.00" y1="622.72" x2="173.60" y2="622.72" stroke="#333333" stroke-width="0.9"/>
<text x="167.60" y="625.07" font-size="6.2" fill="#303030" text-anchor="end">60</text>
<line x1="171.00" y1="616.74" x2="173.60" y2="616.74" stroke="#333333" stroke-width="0.9"/>
<text x="167.60" y="619.09" font-size="6.2" fill="#303030" text-anchor="end">70</text>
<line x1="171.00" y1="610.76" x2="173.60" y2="610.76" stroke="#333333" stroke-width="0.9"/>
<text x="167.60" y="613.11" font-size="6.2" fill="#303030" text-anchor="end">80</text>
<line x1="171.00" y1="604.78" x2="173.60" y2="604.78" stroke="#333333" stroke-width="0.9"/>
<text x="167.60" y="607.13" font-size="6.2" fill="#303030" text-anchor="end">90</text>
<line x1="171.00" y1="598.80" x2="173.60" y2="598.80" stroke="#333333" stroke-width="0.9"/>
<text x="167.60" y="601.15" font-size="6.2" fill="#303030" text-anchor="end">100</text>
<line x1="173.00" y1="658.60" x2="194.70" y2="658.60" stroke="#333333" stroke-width="1.2"/>
<rect x="176.90" y="623.92" width="5.40" height="34.68" fill="#a9bc82"/>
<line x1="179.60" y1="605.98" x2="179.60" y2="623.92" stroke="#6a5a5a" stroke-width="0.7"/>
<line x1="178.20" y1="605.98" x2="181.00" y2="605.98" stroke="#6a5a5a" stroke-width="0.7"/>
<rect x="186.20" y="614.95" width="5.30" height="43.65" fill="#c80a28"/>
<line x1="188.85" y1="603.58" x2="188.85" y2="614.95" stroke="#5a1a28" stroke-width="0.7"/>
<line x1="187.45" y1="603.58" x2="190.25" y2="603.58" stroke="#5a1a28" stroke-width="0.7"/>
<line x1="179.60" y1="596.10" x2="188.70" y2="596.10" stroke="#555" stroke-width="0.8"/>
<text x="184.20" y="595.30" font-size="6.6" fill="#555" text-anchor="middle">ns</text>
<text x="150.60" y="627.50" font-size="7.9" fill="#303030" text-anchor="middle" stroke="#303030" stroke-width="0.35" textLength="46.4" lengthAdjust="spacingAndGlyphs" transform="rotate(-90 150.60 627.50)">%Survival to birth</text>
<rect x="154.30" y="666.10" width="7.60" height="3.80" fill="#a9bc82"/>
<rect x="154.30" y="684.40" width="7.60" height="3.80" fill="#c80a28"/>
<text x="164.90" y="670.20" font-size="6.34" fill="#3c3c3c">Saline-injected control</text>
<text x="164.90" y="678.10" font-size="6.38" fill="#3c3c3c">(n = 4 litters, 27 fetuses)</text>
<text x="164.90" y="688.50" font-size="6.34" fill="#3c3c3c">Anti-CD3 mAb</text>
<text x="164.90" y="696.10" font-size="6.38" fill="#3c3c3c">(n = 4 litters, 24 fetuses)</text>
<text x="243.40" y="588.00" font-size="11" fill="#111" font-weight="bold">H</text>
<line x1="271.00" y1="594.40" x2="271.00" y2="659.10" stroke="#333333" stroke-width="1.4"/>
<line x1="268.40" y1="658.50" x2="271.00" y2="658.50" stroke="#333333" stroke-width="0.9"/>
<text x="265.00" y="660.85" font-size="6.6" fill="#303030" text-anchor="end">0.0</text>
<line x1="268.40" y1="643.25" x2="271.00" y2="643.25" stroke="#333333" stroke-width="0.9"/>
<text x="265.00" y="645.60" font-size="6.6" fill="#303030" text-anchor="end">0.5</text>
<line x1="268.40" y1="628.00" x2="271.00" y2="628.00" stroke="#333333" stroke-width="0.9"/>
<text x="265.00" y="630.35" font-size="6.6" fill="#303030" text-anchor="end">1.0</text>
<line x1="268.40" y1="612.75" x2="271.00" y2="612.75" stroke="#333333" stroke-width="0.9"/>
<text x="265.00" y="615.10" font-size="6.6" fill="#303030" text-anchor="end">1.5</text>
<line x1="268.40" y1="597.50" x2="271.00" y2="597.50" stroke="#333333" stroke-width="0.9"/>
<text x="265.00" y="599.85" font-size="6.6" fill="#303030" text-anchor="end">2.0</text>
<line x1="270.40" y1="658.50" x2="292.80" y2="658.50" stroke="#333333" stroke-width="1.2"/>
<rect x="274.70" y="615.19" width="5.30" height="43.31" fill="#a9bc82"/>
<line x1="277.35" y1="607.57" x2="277.35" y2="615.19" stroke="#5e6a4a" stroke-width="0.7"/>
<line x1="275.95" y1="607.57" x2="278.75" y2="607.57" stroke="#5e6a4a" stroke-width="0.7"/>
<rect x="284.20" y="616.72" width="5.60" height="41.78" fill="#c80a28"/>
<line x1="287.00" y1="612.45" x2="287.00" y2="616.72" stroke="#5a1a28" stroke-width="0.7"/>
<line x1="285.60" y1="612.45" x2="288.40" y2="612.45" stroke="#5a1a28" stroke-width="0.7"/>
<line x1="277.10" y1="600.20" x2="287.10" y2="600.20" stroke="#555" stroke-width="0.8"/>
<text x="281.90" y="599.00" font-size="6.6" fill="#555" text-anchor="middle">ns</text>
<text x="250.60" y="626.90" font-size="8.2" fill="#303030" text-anchor="middle" stroke="#303030" stroke-width="0.35" textLength="28" lengthAdjust="spacingAndGlyphs" transform="rotate(-90 250.60 626.90)">Weight (g)</text>
<rect x="245.80" y="665.50" width="7.70" height="3.80" fill="#a9bc82"/>
<text x="255.60" y="669.60" font-size="6.4" fill="#3c3c3c">Saline-injected control (n = 14)</text>
<rect x="245.80" y="675.70" width="7.70" height="3.80" fill="#c80a28"/>
<text x="255.60" y="679.80" font-size="6.4" fill="#3c3c3c">Anti-CD3 mAb (n = 17)</text>
<line x1="0" y1="0.5" x2="520" y2="0.5" stroke="#5a5a5a" stroke-width="1"/>
<line x1="0.5" y1="0" x2="0.5" y2="710" stroke="#5a5a5a" stroke-width="1"/>
<line x1="519.5" y1="0" x2="519.5" y2="710" stroke="#5e5e5e" stroke-width="1"/>
<line x1="0" y1="709.5" x2="520" y2="709.5" stroke="#2e2e2e" stroke-width="1"/>
</svg>
</body></html>
